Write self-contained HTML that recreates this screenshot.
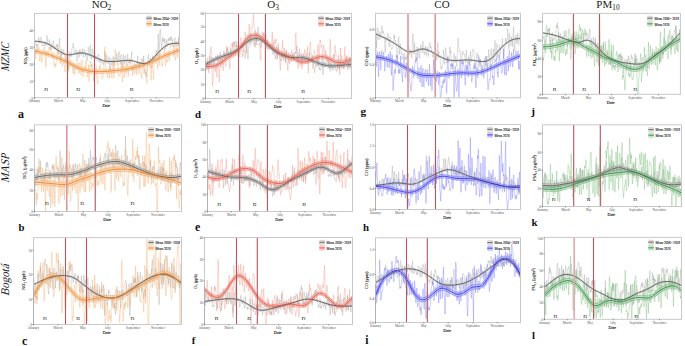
<!DOCTYPE html>
<html><head><meta charset="utf-8"><style>
html,body{margin:0;padding:0;background:#fff;}
body{width:685px;height:346px;overflow:hidden;}
svg{display:block;font-family:"Liberation Serif",serif;}
</style></head><body>
<svg xmlns="http://www.w3.org/2000/svg" width="685" height="346" viewBox="0 0 685 346">
<rect width="685" height="346" fill="#fff"/>
<clipPath id="cpa"><rect x="34.5" y="13.4" width="145.0" height="84.3"/></clipPath>
<g clip-path="url(#cpa)">
<path transform="translate(34.7,0) scale(0.39617,0.1)" vector-effect="non-scaling-stroke" d="M0 385l1 35l1 12l1 22l1-10l1 20l1-6l1-10l1 6l1-20l1-62l1 21l1 28l1 7l1-23l1-22l1-13l1 42l1 37l1 3l1 11l1-14l1-4l1 16l1-17l1-26l1 22l1 19l1-27l1 4l1-31l1-51l1 44l1 55l1-9l1 3l1-33l1-20l1 52l1 45l1-9l1-48l1 20l1 32l1-4l1-5l1-52l1-20l1 80l1-5l1 16l1-30l1 7l1-1l1-19l1 12l1-22l1-4l1 77l1 35l1-30l1-51l1-56l1-34l1 154l1 70l1-33l1-44l1-38l1 61l1-11l1-4l1-6l1-32l1 33l1 22l1 29l1 13l1 22l1 9l1-36l1-16l1-56l1-3l1 60l1 54l1 63l1-52l1-114l1-5l1 35l1 18l1-18l1-27l1-42l1-20l1-4l1-29l1 48l1-10l1 55l1 7l1 1l1-2l1-26l1-9l1 75l1 37l1-58l1-11l1-30l1 20l1 46l1-23l1-62l1 39l1-6l1 29l1-23l1 1l1-44l1 55l1 7l1 27l1-51l1-33l1 22l1-7l1 58l1-29l1 4l1 43l1 24l1-4l1-58l1-74l1 16l1 51l1 26l1-11l1-106l1 54l1 74l1 14l1-61l1-43l1 11l1 87l1-16l1 8l1-26l1-50l1 50l1 44l1-31l1-2l1 3l1 28l1 22l1-4l1-54l1-14l1 13l1 56l1 18l1-23l1 0l1-26l1 46l1 7l1 2l1-9l1-5l1 23l1 4l1-20l1-21l1-91l1 16l1 50l1 49l1-83l1 20l1 27l1 35l1 11l1-42l1-30l1 8l1 87l1 26l1-65l1-39l1 37l1 30l1-19l1-4l1-22l1-42l1 78l1 20l1-38l1-36l1 1l1-15l1 16l1-45l1-16l1 36l1 27l1 23l1-34l1-43l1-24l1 79l1 26l1 24l1-70l1-31l1 69l1 19l1 46l1-36l1-79l1-16l1 62l1 6l1 16l1-62l1-10l1 33l1 38l1 23l1-55l1-56l1 0l1 86l1 0l1-7l1 4l1-25l1 12l1 23l1-28l1-37l1-50l1 142l1 41l1-42l1 0l1-14l1 0l1-12l1 10l1 11l1 18l1-16l1-5l1-16l1-21l1-58l1 56l1 52l1-9l1-20l1-10l1-4l1 33l1 2l1-54l1-18l1 5l1 34l1 13l1 2l1-80l1 65l1 44l1 21l1 46l1 6l1 29l1-8l1-40l1-48l1-62l1-13l1-54l1 92l1-3l1-12l1-12l1-29l1 52l1 34l1 14l1-42l1-75l1 42l1-52l1 12l1 32l1 18l1-9l1-19l1 1l1-62l1-28l1 37l1 0l1 20l1-113l1-105l1 128l1 108l1-118l1-143l1-20l1 36l1 95l1 79l1-4l1-85l1-40l1 34l1 7l1-31l1 39l1-34l1 50l1 51l1-29l1-1l1-66l1 46l1 16l1 10l1-59l1-24l1 22l1-27l1 26l1 6l1-43l1 27l1-21l1 24l1 16l1-20l1 71l1 3l1-15l1-8l1-9l1-59l1 58l1 23l1 8l1-51l1 12l1 38l1-2l1-3l1-17l1-83l1 100" fill="none" stroke="#9c9c9c" stroke-width="0.4" stroke-opacity="0.85"/>
<path transform="translate(34.7,0) scale(0.39617,0.1)" vector-effect="non-scaling-stroke" d="M0 456l1 36l1 69l1 28l1-76l1 16l1-83l1 65l1-4l1-34l1-8l1 21l1 92l1 33l1-47l1-43l1 10l1 64l1 32l1-36l1-37l1-14l1-41l1 1l1-29l1 7l1 50l1 49l1 94l1-48l1-115l1-1l1 43l1 7l1 2l1-48l1-45l1 8l1 29l1 5l1-15l1-20l1 25l1 61l1 22l1-9l1-6l1-39l1 55l1 74l1-21l1 41l1-38l1 4l1 7l1-54l1-52l1-95l1 37l1 14l1 22l1 12l1 4l1-1l1 64l1 37l1 3l1-73l1-20l1 78l1 41l1-20l1-24l1-11l1 12l1 33l1 65l1-1l1-126l1-44l1 107l1 17l1 4l1 3l1-39l1 59l1 16l1-65l1-37l1-9l1 34l1 15l1-38l1-15l1 2l1 48l1 74l1 11l1-50l1-61l1 59l1 63l1-72l1-17l1-30l1 30l1 26l1-11l1 10l1-66l1 12l1 48l1 56l1-45l1-64l1 26l1 49l1 55l1-46l1-113l1 65l1 41l1 45l1 16l1-57l1-51l1 10l1 34l1 1l1-97l1 19l1 86l1 32l1 34l1-40l1-38l1-48l1 165l1-64l1-66l1-74l1 2l1 55l1-18l1 36l1-49l1 44l1 26l1 60l1 47l1-65l1-8l1 30l1-7l1-4l1-95l1 27l1 87l1 27l1 35l1-97l1-45l1-6l1-24l1 24l1-30l1-14l1 12l1 72l1 48l1 1l1 13l1-15l1-5l1-43l1-96l1-77l1-87l1 81l1 140l1 21l1 1l1 32l1 2l1 36l1-59l1-2l1-7l1-26l1 89l1-44l1-53l1-20l1 44l1 33l1 46l1-76l1-82l1-20l1 83l1 90l1-55l1-189l1-39l1 17l1-1l1 40l1 79l1 23l1-27l1 11l1 51l1 75l1-5l1-19l1 8l1 2l1-26l1-46l1-48l1 92l1 87l1 11l1-108l1-92l1 51l1 109l1-5l1-37l1-86l1 36l1 49l1-18l1-51l1-30l1 49l1 79l1-37l1-89l1-47l1-10l1 83l1 21l1-5l1-6l1-15l1 57l1 38l1-61l1-26l1-19l1 8l1 82l1-43l1-16l1-44l1 27l1 83l1-21l1-87l1-20l1 38l1 26l1 53l1-60l1-56l1 38l1 80l1 15l1-7l1 33l1 5l1-83l1-109l1 68l1 21l1 54l1-16l1-28l1 1l1 55l1-25l1 62l1 47l1-69l1-144l1 4l1 24l1-2l1 31l1-9l1-65l1 6l1 126l1 70l1-114l1-42l1-48l1 93l1 41l1 63l1-111l1-105l1 20l1 35l1-22l1-35l1-19l1-10l1 77l1 60l1-58l1-87l1 24l1 91l1-29l1-84l1-40l1 27l1 59l1 54l1-2l1 25l1-33l1-48l1-57l1-13l1-46l1 51l1 65l1 77l1-51l1-93l1 9l1 91l1 8l1-23l1-94l1 1l1 75l1 22l1-81l1-26l1-47l1-20l1 24l1-11l1-4l1-5l1 3l1 58l1 69l1-56l1-57l1 25l1 125l1-28l1-19l1-72l1-12l1 36l1 70l1-96l1-98l1 49l1 24" fill="none" stroke="#f4a45a" stroke-width="0.4" stroke-opacity="0.85"/>
<defs><path id="sag" transform="translate(34.5,0) scale(1.46465,0.1)" vector-effect="non-scaling-stroke" d="M0 412l1 1l1 1l1 2l1 2l1 2l1 3l1 4l1 5l1 6l1 8l1 8l1 9l1 9l1 10l1 11l1 10l1 9l1 9l1 9l1 7l1 5l1 4l1 2l1 0l1-1l1-3l1-3l1-3l1-4l1-2l1-2l1-1l1 1l1 2l1 4l1 4l1 5l1 5l1 6l1 6l1 7l1 7l1 7l1 7l1 6l1 6l1 5l1 3l1 3l1 1l1 1l1 0l1 0l1 0l1-1l1-1l1-1l1-2l1-1l1-1l1-2l1-1l1-1l1 0l1 0l1 2l1 2l1 4l1 4l1 5l1 5l1 4l1 3l1 3l1 0l1-2l1-4l1-8l1-11l1-13l1-15l1-16l1-17l1-16l1-16l1-15l1-14l1-12l1-12l1-9l1-8l1-6l1-4l1-3l1-1l1-1l1 0l1 0l1 0"/><path id="sac" transform="translate(34.5,0) scale(1.46465,0.1)" vector-effect="non-scaling-stroke" d="M0 511l1 2l1 3l1 3l1 3l1 4l1 4l1 3l1 5l1 4l1 5l1 5l1 6l1 6l1 5l1 6l1 6l1 5l1 6l1 6l1 6l1 6l1 7l1 8l1 8l1 9l1 8l1 9l1 8l1 7l1 7l1 6l1 5l1 5l1 4l1 3l1 3l1 3l1 2l1 2l1 1l1 1l1 1l1 0l1 0l1 0l1-1l1 0l1-1l1-1l1-1l1-1l1-2l1-1l1-1l1-1l1-2l1-1l1-2l1-1l1-2l1-2l1-2l1-3l1-2l1-3l1-3l1-4l1-3l1-4l1-4l1-4l1-4l1-5l1-5l1-5l1-6l1-5l1-6l1-6l1-7l1-6l1-7l1-7l1-7l1-6l1-7l1-6l1-7l1-6l1-6l1-6l1-6l1-6l1-5l1-6l1-5l1-6l1-5l1-3"/></defs>
<use href="#sag" fill="none" stroke="#b8b8b8" stroke-width="2" stroke-opacity="0.35" stroke-linejoin="round"/>
<use href="#sac" fill="none" stroke="#f8c898" stroke-width="3.60" stroke-opacity="0.55" stroke-linejoin="round"/>
<use href="#sac" transform="translate(0,-1.80)" fill="none" stroke="#ec7a1e" stroke-width="0.5" stroke-opacity="0.55"/>
<use href="#sac" transform="translate(0,1.80)" fill="none" stroke="#ec7a1e" stroke-width="0.5" stroke-opacity="0.55"/>
<use href="#sag" fill="none" stroke="#505050" stroke-width="0.85" stroke-linejoin="round"/>
<use href="#sac" fill="none" stroke="#ec7a1e" stroke-width="0.85" stroke-linejoin="round"/>
</g>
<line x1="67.5" y1="13.4" x2="67.5" y2="97.7" stroke="#b5555e" stroke-width="1.1"/>
<line x1="94.5" y1="13.4" x2="94.5" y2="97.7" stroke="#b5555e" stroke-width="1.1"/>
<rect x="34.5" y="13.4" width="145.0" height="84.3" fill="none" stroke="#c9c9c9" stroke-width="1"/>
<line x1="34.5" y1="59.765" x2="34.5" y2="97.7" stroke="#b0b0b0" stroke-width="1"/>
<line x1="34.5" y1="97.7" x2="34.5" y2="98.60000000000001" stroke="#444" stroke-width="0.7"/>
<text x="34.5" y="102" font-size="3.7" text-anchor="middle" fill="#555" textLength="11.2" lengthAdjust="spacingAndGlyphs">January</text>
<line x1="58.47" y1="97.7" x2="58.47" y2="98.60000000000001" stroke="#444" stroke-width="0.7"/>
<text x="58.47" y="102" font-size="3.7" text-anchor="middle" fill="#555" textLength="8.7" lengthAdjust="spacingAndGlyphs">March</text>
<line x1="82.83" y1="97.7" x2="82.83" y2="98.60000000000001" stroke="#444" stroke-width="0.7"/>
<text x="82.83" y="102" font-size="3.7" text-anchor="middle" fill="#555" textLength="5.6" lengthAdjust="spacingAndGlyphs">May</text>
<line x1="107.2" y1="97.7" x2="107.2" y2="98.60000000000001" stroke="#444" stroke-width="0.7"/>
<text x="107.2" y="102" font-size="3.7" text-anchor="middle" fill="#555" textLength="5.8" lengthAdjust="spacingAndGlyphs">July</text>
<line x1="131.97" y1="97.7" x2="131.97" y2="98.60000000000001" stroke="#444" stroke-width="0.7"/>
<text x="131.97" y="102" font-size="3.7" text-anchor="middle" fill="#555" textLength="14.1" lengthAdjust="spacingAndGlyphs">September</text>
<line x1="156.33" y1="97.7" x2="156.33" y2="98.60000000000001" stroke="#444" stroke-width="0.7"/>
<text x="156.33" y="102" font-size="3.7" text-anchor="middle" fill="#555" textLength="13.8" lengthAdjust="spacingAndGlyphs">November</text>
<text x="106.28" y="107" font-size="4.9" text-anchor="middle" fill="#222" stroke="#222" stroke-width="0.15" textLength="7.8" lengthAdjust="spacingAndGlyphs">Date</text>
<line x1="33.5" y1="98" x2="34.5" y2="98" stroke="#555" stroke-width="0.6"/>
<text x="32.9" y="99.5" font-size="3.5" text-anchor="end" fill="#555">0</text>
<line x1="33.5" y1="81" x2="34.5" y2="81" stroke="#555" stroke-width="0.6"/>
<text x="32.9" y="82.5" font-size="3.5" text-anchor="end" fill="#555">10</text>
<line x1="33.5" y1="64.1" x2="34.5" y2="64.1" stroke="#555" stroke-width="0.6"/>
<text x="32.9" y="65.6" font-size="3.5" text-anchor="end" fill="#555">20</text>
<line x1="33.5" y1="47.2" x2="34.5" y2="47.2" stroke="#555" stroke-width="0.6"/>
<text x="32.9" y="48.7" font-size="3.5" text-anchor="end" fill="#555">30</text>
<line x1="33.5" y1="30.2" x2="34.5" y2="30.2" stroke="#555" stroke-width="0.6"/>
<text x="32.9" y="31.7" font-size="3.5" text-anchor="end" fill="#555">40</text>
<text transform="translate(26.9,55.8) rotate(-90)" font-size="4.5" text-anchor="middle" fill="#222" stroke="#222" stroke-width="0.1" textLength="16.9" lengthAdjust="spacingAndGlyphs">NO₂ (ppb)</text>
<text x="46.3" y="90.5" font-size="3.2" font-weight="bold" text-anchor="middle" fill="#111" textLength="3.4" lengthAdjust="spacingAndGlyphs">P1</text>
<text x="78.3" y="90.5" font-size="3.2" font-weight="bold" text-anchor="middle" fill="#111" textLength="3.4" lengthAdjust="spacingAndGlyphs">P2</text>
<text x="131.6" y="90.5" font-size="3.2" font-weight="bold" text-anchor="middle" fill="#111" textLength="3.4" lengthAdjust="spacingAndGlyphs">P3</text>
<rect x="146.3" y="15.7" width="5.5" height="5" fill="#dadada"/>
<line x1="146.3" y1="18.2" x2="151.8" y2="18.2" stroke="#505050" stroke-width="0.8"/>
<rect x="146.3" y="21.1" width="5.5" height="5.4" fill="#f8c898" fill-opacity="0.65"/>
<line x1="146.3" y1="23.8" x2="151.8" y2="23.8" stroke="#ec7a1e" stroke-width="0.8"/>
<text x="153.6" y="19.7" font-size="4.4" fill="#222" stroke="#222" stroke-width="0.12" textLength="24.3" lengthAdjust="spacingAndGlyphs">Mean 2004 - 2019</text>
<text x="153.6" y="25.5" font-size="4.4" fill="#222" stroke="#222" stroke-width="0.12" textLength="15" lengthAdjust="spacingAndGlyphs">Mean 2020</text>
<clipPath id="cpd"><rect x="205.5" y="13.4" width="146.0" height="85.0"/></clipPath>
<g clip-path="url(#cpd)">
<path transform="translate(205.7,0) scale(0.39891,0.1)" vector-effect="non-scaling-stroke" d="M0 607l1 31l1 37l1-1l1-37l1-23l1 19l1 60l1 35l1-76l1-95l1 43l1 15l1 48l1-26l1-22l1-45l1 26l1 28l1 20l1-35l1-29l1 14l1 25l1-38l1-24l1 11l1 0l1 37l1-13l1-48l1 19l1 52l1 0l1-25l1 0l1-74l1 48l1 28l1 4l1 9l1 34l1-59l1-17l1-27l1-27l1 3l1 56l1 4l1-4l1 31l1-25l1-39l1-47l1 84l1-16l1-20l1-21l1-8l1 68l1 1l1-8l1-26l1-58l1 48l1 45l1-57l1-48l1-52l1 33l1-20l1-16l1 8l1 28l1 66l1 43l1-15l1-29l1-67l1 12l1 13l1-14l1-17l1-8l1 34l1 58l1-20l1-28l1-22l1 1l1 9l1 15l1-16l1-32l1-10l1 61l1 24l1 9l1 15l1 48l1-42l1-61l1-33l1-25l1 51l1 63l1 55l1-91l1-39l1-48l1-81l1 55l1 62l1-15l1-85l1 35l1 41l1 0l1 3l1-1l1-4l1 35l1-1l1-59l1-26l1-68l1 78l1 70l1-39l1-59l1-47l1-37l1 6l1 37l1 16l1 17l1 20l1 40l1 73l1-23l1-75l1 0l1 27l1 25l1-24l1-78l1-9l1 52l1 77l1-5l1-45l1 30l1 15l1 28l1 3l1-53l1-17l1 36l1 28l1 17l1-15l1 9l1-42l1 45l1 11l1-15l1-35l1 3l1 49l1 49l1-62l1-64l1 31l1 96l1 35l1 8l1-87l1-36l1 30l1 87l1-67l1-18l1-33l1 26l1 33l1 22l1 20l1 17l1 18l1 7l1-23l1-35l1 1l1-17l1 51l1 20l1-21l1-36l1-23l1 39l1 63l1-54l1-66l1 21l1-3l1 34l1 2l1 26l1 28l1 7l1-10l1-3l1-50l1-27l1-1l1-30l1 31l1-2l1 8l1 31l1 25l1-33l1-11l1-21l1 3l1-14l1 17l1-30l1-18l1-30l1 88l1 83l1-68l1-3l1-44l1-28l1 29l1 3l1 21l1 9l1 29l1 52l1-23l1-33l1-18l1 21l1-14l1 46l1-33l1-9l1-15l1 1l1-11l1-9l1 10l1 6l1 51l1 39l1-28l1-46l1-36l1-4l1 55l1 18l1 25l1-48l1 7l1 16l1-47l1 39l1 44l1 34l1 30l1 30l1-21l1-45l1-23l1 9l1 13l1 9l1-62l1-49l1 38l1 52l1 46l1-1l1-20l1 29l1 0l1-8l1-66l1-34l1 2l1 66l1 87l1-89l1-64l1 16l1 40l1 17l1-9l1-25l1-34l1-46l1 28l1 3l1-9l1 11l1 34l1 50l1 24l1-84l1 16l1 26l1 56l1-66l1 24l1-4l1 0l1 35l1-1l1-30l1-117l1 50l1 27l1 33l1 39l1-7l1 14l1 8l1-43l1-38l1-38l1-4l1 68l1 38l1-29l1-41l1-39l1 36l1 60l1-3l1-58l1-13l1 17l1 40l1 13l1 8l1-49l1 1l1-29l1-30l1 18l1-42l1-5l1 23l1 53l1 44l1-40l1-21l1 56l1 23l1-18l1-44l1-36l1 26" fill="none" stroke="#9c9c9c" stroke-width="0.4" stroke-opacity="0.85"/>
<path transform="translate(205.7,0) scale(0.39891,0.1)" vector-effect="non-scaling-stroke" d="M0 592l1 50l1 4l1 55l1-22l1-102l1 43l1 58l1 3l1-32l1-50l1-62l1-1l1-70l1 68l1 141l1 59l1 124l1-25l1-82l1-109l1-24l1 13l1 53l1 32l1-27l1-52l1 1l1 135l1-80l1-95l1-13l1 81l1 55l1 101l1-61l1-139l1-41l1 95l1-30l1-46l1-16l1 2l1 97l1 23l1-75l1-63l1-44l1 82l1 50l1 9l1-2l1-178l1-25l1 47l1-31l1 76l1-9l1-13l1 84l1 76l1-16l1-133l1-83l1-13l1-11l1 0l1 35l1-18l1 36l1 85l1 4l1-161l1 0l1 16l1 6l1 36l1-63l1 24l1 91l1 26l1 15l1-18l1-66l1 64l1 16l1 5l1-128l1-66l1 38l1 29l1 91l1 4l1 35l1-66l1 16l1-55l1-61l1-2l1-82l1 60l1 87l1 66l1-119l1-52l1-17l1 37l1 45l1-109l1-79l1 58l1 31l1 46l1-5l1-73l1-20l1-7l1 4l1-28l1-47l1-53l1 68l1 174l1 25l1 62l1-48l1 3l1-13l1-85l1 24l1-32l1-2l1 69l1 30l1 27l1-9l1 59l1 48l1 56l1-127l1-78l1-77l1 18l1 52l1 24l1-32l1-47l1 27l1 73l1 7l1-54l1-39l1 29l1 32l1 88l1-105l1 4l1 70l1 30l1-10l1 5l1-48l1-6l1 0l1 43l1-35l1-47l1-77l1 183l1-40l1-39l1-16l1-13l1 11l1 17l1 5l1-42l1 56l1 64l1 86l1-4l1-113l1-41l1 80l1 5l1 43l1 70l1 72l1-46l1-102l1 13l1-60l1-54l1-53l1 130l1 50l1-46l1-58l1 38l1 46l1 48l1-50l1-61l1 77l1 64l1 2l1 64l1-146l1-38l1 52l1 67l1-25l1-52l1-17l1 9l1 61l1-38l1-38l1 9l1-18l1 31l1 15l1-40l1-3l1-44l1-94l1-66l1 81l1 92l1 63l1 87l1 18l1 13l1-36l1-88l1-33l1 108l1 24l1-30l1-30l1-62l1 147l1-11l1-44l1-44l1-51l1 23l1-26l1-37l1 22l1 91l1 30l1-54l1-6l1-27l1-87l1 128l1 140l1-48l1-113l1-4l1-124l1-4l1-17l1 98l1 24l1 60l1 28l1 19l1 36l1-34l1-86l1-67l1 14l1 18l1 15l1 1l1 44l1-5l1 32l1-71l1-103l1 14l1 85l1 106l1-108l1-136l1 9l1-15l1 71l1-10l1-10l1 78l1 68l1-26l1-87l1-36l1 28l1 40l1 3l1 35l1-52l1 32l1 36l1 32l1 28l1-23l1-8l1 62l1-29l1-11l1-138l1-91l1 56l1 150l1 44l1-38l1-28l1 23l1-31l1 10l1-37l1 15l1 3l1-105l1 35l1 35l1 51l1 25l1 26l1 21l1 37l1-79l1-54l1 39l1 64l1 91l1-197l1-69l1 76l1 44l1-45l1 23l1 8l1 25l1 75l1-1l1-87l1-57l1-74l1 178l1-48l1 4l1-38l1 49l1 83l1 2l1-71l1-56l1-1l1 17l1 17l1 68l1-102l1 17l1 52" fill="none" stroke="#f08878" stroke-width="0.4" stroke-opacity="0.85"/>
<defs><path id="sdg" transform="translate(205.5,0) scale(1.47475,0.1)" vector-effect="non-scaling-stroke" d="M0 646l1-8l1-9l1-8l1-9l1-8l1-7l1-7l1-7l1-5l1-6l1-5l1-5l1-5l1-5l1-5l1-5l1-6l1-6l1-7l1-8l1-9l1-10l1-11l1-13l1-13l1-14l1-13l1-12l1-10l1-9l1-6l1-5l1-3l1-1l1 0l1 2l1 4l1 7l1 10l1 11l1 12l1 14l1 13l1 14l1 13l1 12l1 11l1 10l1 9l1 8l1 7l1 7l1 5l1 5l1 4l1 4l1 3l1 2l1 2l1 1l1 1l1 0l1 0l1 0l1 0l1 2l1 2l1 3l1 4l1 5l1 6l1 6l1 6l1 6l1 6l1 6l1 6l1 5l1 4l1 4l1 4l1 2l1 2l1 2l1 1l1 0l1 0l1-1l1-1l1-1l1-1l1-2l1-1l1-2l1-1l1-1l1-1l1 0l1-1"/><path id="sdc" transform="translate(205.5,0) scale(1.47475,0.1)" vector-effect="non-scaling-stroke" d="M0 667l1 0l1 0l1-1l1-1l1-2l1-4l1-4l1-7l1-8l1-9l1-10l1-10l1-11l1-11l1-11l1-11l1-10l1-9l1-10l1-11l1-12l1-14l1-16l1-19l1-19l1-21l1-19l1-17l1-14l1-10l1-8l1-4l1-2l1 0l1 2l1 6l1 7l1 10l1 13l1 13l1 15l1 14l1 15l1 13l1 13l1 12l1 11l1 10l1 9l1 8l1 7l1 7l1 7l1 6l1 7l1 7l1 6l1 7l1 7l1 7l1 6l1 6l1 6l1 5l1 4l1 2l1 0l1-2l1-4l1-5l1-6l1-7l1-6l1-7l1-5l1-5l1-4l1-2l1 0l1 1l1 3l1 5l1 5l1 8l1 8l1 8l1 7l1 7l1 4l1 3l1 1l1-1l1-2l1-3l1-5l1-5l1-6l1-7l1-7"/></defs>
<use href="#sdg" fill="none" stroke="#b8b8b8" stroke-width="3.06" stroke-opacity="0.45" stroke-linejoin="round"/>
<use href="#sdg" transform="translate(0,-1.53)" fill="none" stroke="#505050" stroke-width="0.5" stroke-opacity="0.55"/>
<use href="#sdg" transform="translate(0,1.53)" fill="none" stroke="#505050" stroke-width="0.5" stroke-opacity="0.55"/>
<use href="#sdc" fill="none" stroke="#f4aca0" stroke-width="3.60" stroke-opacity="0.55" stroke-linejoin="round"/>
<use href="#sdc" transform="translate(0,-1.80)" fill="none" stroke="#e0483a" stroke-width="0.5" stroke-opacity="0.55"/>
<use href="#sdc" transform="translate(0,1.80)" fill="none" stroke="#e0483a" stroke-width="0.5" stroke-opacity="0.55"/>
<use href="#sdg" fill="none" stroke="#505050" stroke-width="0.85" stroke-linejoin="round"/>
<use href="#sdc" fill="none" stroke="#e0483a" stroke-width="0.85" stroke-linejoin="round"/>
</g>
<line x1="238.5" y1="13.4" x2="238.5" y2="98.4" stroke="#b5555e" stroke-width="1.1"/>
<line x1="265.4" y1="13.4" x2="265.4" y2="98.4" stroke="#b5555e" stroke-width="1.1"/>
<rect x="205.5" y="13.4" width="146.0" height="85.0" fill="none" stroke="#c9c9c9" stroke-width="1"/>
<line x1="205.5" y1="60.150000000000006" x2="205.5" y2="98.4" stroke="#b0b0b0" stroke-width="1"/>
<line x1="205.5" y1="98.4" x2="205.5" y2="99.30000000000001" stroke="#444" stroke-width="0.7"/>
<text x="205.5" y="102.7" font-size="3.7" text-anchor="middle" fill="#555" textLength="11.2" lengthAdjust="spacingAndGlyphs">January</text>
<line x1="229.63" y1="98.4" x2="229.63" y2="99.30000000000001" stroke="#444" stroke-width="0.7"/>
<text x="229.63" y="102.7" font-size="3.7" text-anchor="middle" fill="#555" textLength="8.7" lengthAdjust="spacingAndGlyphs">March</text>
<line x1="254.17" y1="98.4" x2="254.17" y2="99.30000000000001" stroke="#444" stroke-width="0.7"/>
<text x="254.17" y="102.7" font-size="3.7" text-anchor="middle" fill="#555" textLength="5.6" lengthAdjust="spacingAndGlyphs">May</text>
<line x1="278.7" y1="98.4" x2="278.7" y2="99.30000000000001" stroke="#444" stroke-width="0.7"/>
<text x="278.7" y="102.7" font-size="3.7" text-anchor="middle" fill="#555" textLength="5.8" lengthAdjust="spacingAndGlyphs">July</text>
<line x1="303.64" y1="98.4" x2="303.64" y2="99.30000000000001" stroke="#444" stroke-width="0.7"/>
<text x="303.64" y="102.7" font-size="3.7" text-anchor="middle" fill="#555" textLength="14.1" lengthAdjust="spacingAndGlyphs">September</text>
<line x1="328.17" y1="98.4" x2="328.17" y2="99.30000000000001" stroke="#444" stroke-width="0.7"/>
<text x="328.17" y="102.7" font-size="3.7" text-anchor="middle" fill="#555" textLength="13.8" lengthAdjust="spacingAndGlyphs">November</text>
<text x="277.77" y="107.7" font-size="4.9" text-anchor="middle" fill="#222" stroke="#222" stroke-width="0.15" textLength="7.8" lengthAdjust="spacingAndGlyphs">Date</text>
<line x1="204.5" y1="98" x2="205.5" y2="98" stroke="#555" stroke-width="0.6"/>
<text x="203.9" y="99.5" font-size="3.5" text-anchor="end" fill="#555">0</text>
<line x1="204.5" y1="84.2" x2="205.5" y2="84.2" stroke="#555" stroke-width="0.6"/>
<text x="203.9" y="85.7" font-size="3.5" text-anchor="end" fill="#555">10</text>
<line x1="204.5" y1="69.9" x2="205.5" y2="69.9" stroke="#555" stroke-width="0.6"/>
<text x="203.9" y="71.4" font-size="3.5" text-anchor="end" fill="#555">20</text>
<line x1="204.5" y1="55.6" x2="205.5" y2="55.6" stroke="#555" stroke-width="0.6"/>
<text x="203.9" y="57.1" font-size="3.5" text-anchor="end" fill="#555">30</text>
<line x1="204.5" y1="41.2" x2="205.5" y2="41.2" stroke="#555" stroke-width="0.6"/>
<text x="203.9" y="42.7" font-size="3.5" text-anchor="end" fill="#555">40</text>
<line x1="204.5" y1="26.9" x2="205.5" y2="26.9" stroke="#555" stroke-width="0.6"/>
<text x="203.9" y="28.4" font-size="3.5" text-anchor="end" fill="#555">50</text>
<line x1="204.5" y1="13.1" x2="205.5" y2="13.1" stroke="#555" stroke-width="0.6"/>
<text x="203.9" y="14.6" font-size="3.5" text-anchor="end" fill="#555">60</text>
<text transform="translate(197.9,56.2) rotate(-90)" font-size="4.5" text-anchor="middle" fill="#222" stroke="#222" stroke-width="0.1" textLength="15.7" lengthAdjust="spacingAndGlyphs">O₃ (ppb)</text>
<text x="217.3" y="92.8" font-size="3.2" font-weight="bold" text-anchor="middle" fill="#111" textLength="3.4" lengthAdjust="spacingAndGlyphs">P1</text>
<text x="249.3" y="92.8" font-size="3.2" font-weight="bold" text-anchor="middle" fill="#111" textLength="3.4" lengthAdjust="spacingAndGlyphs">P2</text>
<text x="303.1" y="92.8" font-size="3.2" font-weight="bold" text-anchor="middle" fill="#111" textLength="3.4" lengthAdjust="spacingAndGlyphs">P3</text>
<rect x="318.3" y="15.7" width="5.5" height="5" fill="#dadada"/>
<line x1="318.3" y1="18.2" x2="323.8" y2="18.2" stroke="#505050" stroke-width="0.8"/>
<rect x="318.3" y="21.1" width="5.5" height="5.4" fill="#f4aca0" fill-opacity="0.65"/>
<line x1="318.3" y1="23.8" x2="323.8" y2="23.8" stroke="#e0483a" stroke-width="0.8"/>
<text x="325.6" y="19.7" font-size="4.4" fill="#222" stroke="#222" stroke-width="0.12" textLength="24.3" lengthAdjust="spacingAndGlyphs">Mean 2004 - 2019</text>
<text x="325.6" y="25.5" font-size="4.4" fill="#222" stroke="#222" stroke-width="0.12" textLength="15" lengthAdjust="spacingAndGlyphs">Mean 2020</text>
<clipPath id="cpg"><rect x="375.5" y="13.4" width="145.0" height="84.39999999999999"/></clipPath>
<g clip-path="url(#cpg)">
<path transform="translate(375.7,0) scale(0.39617,0.1)" vector-effect="non-scaling-stroke" d="M0 221l1 112l1 142l1-38l1-91l1-66l1 23l1 77l1 21l1-47l1-25l1-14l1 31l1 39l1-50l1-69l1-8l1 25l1 51l1-24l1 22l1 15l1 27l1 77l1 76l1-91l1-68l1 33l1 3l1 6l1-2l1-77l1 77l1 15l1 45l1-49l1-52l1 2l1 44l1 86l1-4l1-6l1 3l1-27l1-8l1-2l1-112l1 34l1-13l1 50l1-7l1-2l1 50l1 95l1 78l1-63l1-41l1-80l1-78l1 81l1 98l1-38l1-69l1 24l1 53l1 27l1-14l1 66l1-3l1-10l1-36l1 4l1-16l1 0l1 32l1 25l1-15l1 23l1-24l1-19l1 22l1-62l1-1l1-59l1 24l1 73l1-24l1-2l1-32l1 28l1 19l1 40l1-105l1-78l1-63l1 99l1 107l1-14l1-98l1 64l1 86l1 46l1-40l1-63l1-55l1 22l1 97l1-48l1-51l1-9l1 68l1 35l1-62l1-14l1-59l1 45l1 0l1 30l1 10l1-120l1 75l1 12l1 35l1 18l1-23l1-68l1 20l1 31l1 44l1-44l1-42l1 31l1 21l1 46l1-66l1-47l1-4l1-25l1 57l1-21l1 10l1 49l1-17l1 63l1 6l1-28l1-23l1 77l1 99l1 54l1-166l1-94l1 15l1 33l1 63l1-52l1-64l1-65l1 160l1-64l1 6l1 5l1 12l1 79l1 12l1 63l1-26l1 12l1-14l1-29l1-29l1-110l1 59l1 54l1 34l1-43l1-126l1 16l1 53l1 57l1 28l1-15l1-52l1 15l1 29l1 22l1-18l1-142l1 26l1 35l1-18l1 74l1 27l1 34l1-4l1 27l1-37l1-53l1-44l1 56l1 39l1-36l1-32l1 18l1 59l1 28l1-86l1-144l1-60l1 86l1 12l1 45l1-10l1 4l1 13l1 96l1 19l1-21l1-83l1 2l1-31l1 28l1 7l1-9l1 2l1 21l1 65l1 7l1-75l1-57l1 93l1 52l1 52l1-59l1-68l1 1l1 73l1-27l1-57l1-47l1 74l1 36l1-6l1-49l1-58l1-19l1 1l1 12l1 7l1 73l1 32l1 24l1 49l1-29l1-54l1-78l1 16l1 6l1 25l1-25l1 16l1 17l1 80l1-10l1-61l1 24l1 8l1 48l1-7l1-9l1 43l1-36l1-26l1-12l1-39l1 2l1-5l1 90l1-14l1-60l1-24l1-10l1 70l1 78l1-94l1-121l1 26l1 68l1 56l1 43l1-72l1-123l1-8l1 87l1 38l1 33l1-90l1-63l1 52l1 53l1-102l1-91l1 73l1 63l1 36l1-18l1-122l1 95l1 47l1-18l1-57l1-8l1-30l1-13l1 94l1-24l1-45l1 1l1-41l1-8l1-42l1 88l1 41l1 67l1-60l1-40l1-34l1-6l1-61l1 3l1 56l1-33l1-9l1-110l1 35l1 99l1 69l1-93l1-66l1 51l1 71l1 8l1-23l1-73l1 50l1-8l1 63l1-121l1-82l1 114l1 49l1 73l1-75l1-12l1-69l1 31l1 53l1-30l1-72l1 46l1 69l1 3l1-47l1-46l1-18l1-35" fill="none" stroke="#9c9c9c" stroke-width="0.4" stroke-opacity="0.85"/>
<path transform="translate(375.7,0) scale(0.39617,0.1)" vector-effect="non-scaling-stroke" d="M0 354l1 153l1 132l1 29l1-115l1-37l1 8l1 242l1-100l1-93l1-56l1 11l1 83l1 90l1-125l1-71l1 20l1 71l1 8l1-33l1-49l1 48l1 35l1 109l1-99l1-20l1-19l1-16l1 73l1 39l1-67l1 3l1-69l1 45l1 97l1-57l1-70l1-43l1 87l1 117l1 37l1-207l1 10l1 187l1 164l1-86l1-40l1-49l1-39l1 41l1-2l1-110l1-65l1 13l1-18l1 16l1 86l1 16l1 67l1-44l1 27l1 16l1-75l1-100l1 88l1 45l1 59l1 35l1 36l1-135l1-55l1-24l1-42l1 56l1 112l1 41l1-24l1-49l1-79l1 96l1 64l1-40l1-51l1-24l1 56l1 63l1 26l1 12l1 60l1 27l1-43l1-1l1-164l1-47l1 23l1 23l1 73l1-56l1-51l1-35l1-22l1 4l1-20l1 10l1-36l1 76l1 132l1 12l1-59l1-57l1 27l1 21l1 101l1-84l1-73l1-14l1 110l1 107l1-136l1-54l1 83l1 98l1 10l1-101l1-34l1-41l1 44l1 8l1 68l1-51l1-70l1 59l1 17l1 87l1-59l1-55l1-100l1 120l1 96l1-64l1-27l1 18l1 120l1-82l1-41l1-61l1-123l1 84l1 61l1 52l1-102l1 48l1 7l1 68l1-49l1-53l1-4l1 43l1 54l1 38l1-94l1-31l1 123l1 129l1 0l1-14l1-23l1-80l1 22l1-55l1-16l1 33l1-51l1 3l1 32l1-86l1-36l1 48l1 96l1 87l1-81l1-246l1-36l1 73l1 90l1 50l1-50l1 26l1-54l1-61l1 3l1 12l1-29l1 64l1-47l1 15l1 21l1 245l1 45l1-66l1-203l1-42l1 167l1 26l1 53l1 6l1-57l1-170l1 9l1 153l1 124l1-117l1-133l1-123l1 76l1 90l1 0l1 13l1-60l1-104l1 26l1-30l1 34l1 12l1 55l1 70l1 71l1-78l1-128l1 63l1-38l1-14l1 43l1 61l1 10l1-31l1-131l1 39l1-8l1 43l1 17l1 28l1 89l1 0l1-34l1-5l1-63l1-49l1-13l1 31l1-54l1 56l1 101l1 91l1-121l1-83l1-1l1 83l1 20l1-205l1-2l1 39l1 20l1-35l1 28l1 35l1 9l1 79l1 12l1-78l1 10l1 41l1-4l1 55l1-40l1-75l1-32l1-70l1 2l1-6l1 91l1-7l1 110l1 134l1 11l1-44l1-46l1-17l1 9l1-12l1-137l1 8l1-18l1 27l1 31l1 83l1-25l1 37l1 56l1-49l1-79l1-123l1 3l1 13l1-18l1-19l1 100l1 57l1-12l1 51l1-101l1-97l1-31l1 52l1-5l1 52l1 3l1 50l1 34l1-16l1-6l1-52l1-90l1-80l1 115l1 146l1-2l1-154l1 25l1 128l1 9l1-123l1-70l1 2l1 85l1 62l1-119l1-88l1 14l1 127l1 22l1-34l1-50l1-58l1 37l1 75l1 34l1-41l1-140l1 73l1 16l1 20l1 5l1-54l1-42l1 28l1 55l1-1l1-34l1-48l1-2l1 188l1-85l1 62l1 21l1-28" fill="none" stroke="#6a6af8" stroke-width="0.4" stroke-opacity="0.85"/>
<defs><path id="sgg" transform="translate(375.5,0) scale(1.46465,0.1)" vector-effect="non-scaling-stroke" d="M0 339l1 6l1 6l1 7l1 6l1 7l1 7l1 7l1 7l1 8l1 8l1 8l1 9l1 9l1 10l1 9l1 11l1 10l1 10l1 10l1 9l1 7l1 5l1 3l1 0l1-1l1-3l1-4l1-5l1-5l1-5l1-3l1-2l1 0l1 3l1 4l1 5l1 7l1 7l1 8l1 8l1 9l1 8l1 9l1 8l1 7l1 7l1 6l1 6l1 4l1 4l1 2l1 2l1 1l1 0l1 0l1-1l1 0l1-1l1-1l1-1l1-1l1 0l1 0l1 0l1 1l1 1l1 2l1 3l1 2l1 2l1 2l1 1l1 1l1 0l1-2l1-4l1-5l1-8l1-11l1-13l1-15l1-16l1-17l1-16l1-16l1-16l1-14l1-14l1-12l1-11l1-10l1-8l1-7l1-5l1-4l1-3l1-1l1-1l1 0"/><path id="sgc" transform="translate(375.5,0) scale(1.46465,0.1)" vector-effect="non-scaling-stroke" d="M0 568l1 2l1 3l1 2l1 3l1 3l1 4l1 3l1 5l1 4l1 5l1 6l1 6l1 6l1 6l1 7l1 8l1 7l1 8l1 8l1 8l1 8l1 9l1 8l1 8l1 8l1 7l1 7l1 7l1 5l1 5l1 4l1 3l1 2l1 1l1 1l1 0l1 0l1 0l1 0l1-1l1 0l1-1l1-1l1-1l1-2l1-1l1-2l1-2l1-2l1-2l1-2l1-2l1-1l1-2l1-1l1-1l1-1l1-1l1 0l1 0l1 0l1 1l1 0l1 1l1 1l1 0l1 0l1-1l1-1l1-3l1-3l1-3l1-5l1-4l1-6l1-6l1-6l1-6l1-7l1-6l1-7l1-7l1-7l1-6l1-7l1-6l1-6l1-6l1-6l1-6l1-6l1-6l1-6l1-6l1-6l1-6l1-6l1-6l1-6"/></defs>
<use href="#sgg" fill="none" stroke="#b8b8b8" stroke-width="2" stroke-opacity="0.35" stroke-linejoin="round"/>
<use href="#sgc" fill="none" stroke="#a8a8f8" stroke-width="3.60" stroke-opacity="0.55" stroke-linejoin="round"/>
<use href="#sgc" transform="translate(0,-1.80)" fill="none" stroke="#2828e8" stroke-width="0.5" stroke-opacity="0.55"/>
<use href="#sgc" transform="translate(0,1.80)" fill="none" stroke="#2828e8" stroke-width="0.5" stroke-opacity="0.55"/>
<use href="#sgg" fill="none" stroke="#505050" stroke-width="0.85" stroke-linejoin="round"/>
<use href="#sgc" fill="none" stroke="#2828e8" stroke-width="0.85" stroke-linejoin="round"/>
</g>
<line x1="408" y1="13.4" x2="408" y2="97.8" stroke="#d8989c" stroke-width="1.6"/>
<line x1="435.2" y1="13.4" x2="435.2" y2="97.8" stroke="#d8989c" stroke-width="1.6"/>
<rect x="375.5" y="13.4" width="145.0" height="84.39999999999999" fill="none" stroke="#c9c9c9" stroke-width="1"/>
<line x1="375.5" y1="59.82" x2="375.5" y2="97.8" stroke="#b0b0b0" stroke-width="1"/>
<line x1="375.5" y1="97.8" x2="375.5" y2="98.7" stroke="#444" stroke-width="0.7"/>
<text x="375.5" y="102.1" font-size="3.7" text-anchor="middle" fill="#555" textLength="11.2" lengthAdjust="spacingAndGlyphs">January</text>
<line x1="399.47" y1="97.8" x2="399.47" y2="98.7" stroke="#444" stroke-width="0.7"/>
<text x="399.47" y="102.1" font-size="3.7" text-anchor="middle" fill="#555" textLength="8.7" lengthAdjust="spacingAndGlyphs">March</text>
<line x1="423.83" y1="97.8" x2="423.83" y2="98.7" stroke="#444" stroke-width="0.7"/>
<text x="423.83" y="102.1" font-size="3.7" text-anchor="middle" fill="#555" textLength="5.6" lengthAdjust="spacingAndGlyphs">May</text>
<line x1="448.2" y1="97.8" x2="448.2" y2="98.7" stroke="#444" stroke-width="0.7"/>
<text x="448.2" y="102.1" font-size="3.7" text-anchor="middle" fill="#555" textLength="5.8" lengthAdjust="spacingAndGlyphs">July</text>
<line x1="472.97" y1="97.8" x2="472.97" y2="98.7" stroke="#444" stroke-width="0.7"/>
<text x="472.97" y="102.1" font-size="3.7" text-anchor="middle" fill="#555" textLength="14.1" lengthAdjust="spacingAndGlyphs">September</text>
<line x1="497.33" y1="97.8" x2="497.33" y2="98.7" stroke="#444" stroke-width="0.7"/>
<text x="497.33" y="102.1" font-size="3.7" text-anchor="middle" fill="#555" textLength="13.8" lengthAdjust="spacingAndGlyphs">November</text>
<text x="447.27" y="107.1" font-size="4.9" text-anchor="middle" fill="#222" stroke="#222" stroke-width="0.15" textLength="7.8" lengthAdjust="spacingAndGlyphs">Date</text>
<line x1="374.5" y1="98" x2="375.5" y2="98" stroke="#555" stroke-width="0.6"/>
<text x="373.9" y="99.5" font-size="3.5" text-anchor="end" fill="#555">0.0</text>
<line x1="374.5" y1="64.2" x2="375.5" y2="64.2" stroke="#555" stroke-width="0.6"/>
<text x="373.9" y="65.7" font-size="3.5" text-anchor="end" fill="#555">0.4</text>
<line x1="374.5" y1="29.8" x2="375.5" y2="29.8" stroke="#555" stroke-width="0.6"/>
<text x="373.9" y="31.3" font-size="3.5" text-anchor="end" fill="#555">0.8</text>
<text transform="translate(367.9,56.2) rotate(-90)" font-size="4.5" text-anchor="middle" fill="#222" stroke="#222" stroke-width="0.1" textLength="19.0" lengthAdjust="spacingAndGlyphs">CO (ppm)</text>
<rect x="487.3" y="15.7" width="5.5" height="5" fill="#dadada"/>
<line x1="487.3" y1="18.2" x2="492.8" y2="18.2" stroke="#505050" stroke-width="0.8"/>
<rect x="487.3" y="21.1" width="5.5" height="5.4" fill="#a8a8f8" fill-opacity="0.65"/>
<line x1="487.3" y1="23.8" x2="492.8" y2="23.8" stroke="#2828e8" stroke-width="0.8"/>
<text x="494.6" y="19.7" font-size="4.4" fill="#222" stroke="#222" stroke-width="0.12" textLength="24.3" lengthAdjust="spacingAndGlyphs">Mean 2004 - 2019</text>
<text x="494.6" y="25.5" font-size="4.4" fill="#222" stroke="#222" stroke-width="0.12" textLength="15" lengthAdjust="spacingAndGlyphs">Mean 2020</text>
<clipPath id="cpj"><rect x="542.5" y="13.4" width="137.89999999999998" height="80.89999999999999"/></clipPath>
<g clip-path="url(#cpj)">
<path transform="translate(542.69,0) scale(0.37678,0.1)" vector-effect="non-scaling-stroke" d="M0 366l1 27l1-6l1-22l1-10l1 41l1 31l1-24l1-26l1-84l1-41l1 11l1 34l1 18l1 10l1-29l1-5l1-1l1 88l1 68l1 61l1-73l1-24l1-35l1 7l1-37l1-20l1 33l1 44l1 6l1-5l1-28l1 12l1 4l1-14l1-52l1-22l1-52l1 26l1-50l1 54l1-7l1 9l1 92l1 47l1-34l1-12l1-41l1 41l1 14l1 39l1 5l1-10l1-4l1 7l1-14l1-19l1-85l1 60l1-16l1 11l1-10l1-51l1 34l1 95l1 41l1-29l1-14l1-46l1-6l1 57l1-6l1 27l1 32l1 104l1-17l1-71l1-72l1-72l1 32l1 41l1-8l1-55l1-45l1 85l1 60l1-35l1-35l1-37l1 37l1 40l1 20l1-3l1-72l1-7l1 58l1 29l1 17l1-75l1-52l1 64l1-4l1 30l1-44l1-36l1 85l1 25l1 5l1-112l1-34l1 8l1 1l1 3l1 5l1-20l1-18l1 34l1 7l1-20l1 13l1 45l1-9l1 4l1-18l1-46l1-33l1 82l1 52l1 8l1-28l1-16l1 54l1 4l1 19l1-75l1-21l1 35l1 20l1 47l1-18l1-74l1 60l1 21l1 33l1 18l1-42l1-39l1 51l1 85l1-48l1-22l1-50l1 53l1 48l1-28l1-55l1-12l1 60l1 63l1-24l1-80l1-26l1 48l1 22l1 45l1 1l1-27l1 13l1 28l1 20l1-8l1-70l1 23l1 59l1 47l1-6l1-25l1 26l1-10l1 3l1 12l1-79l1-58l1 17l1 89l1-6l1 31l1 34l1-4l1-20l1 26l1-19l1-5l1 2l1 1l1 18l1-5l1-8l1 3l1-9l1-46l1-18l1-52l1 41l1 16l1 99l1-34l1-106l1 19l1-15l1 51l1-20l1-22l1 22l1 44l1 105l1-65l1-31l1-49l1 11l1 5l1 72l1 27l1-22l1-20l1-19l1 3l1-48l1-43l1 28l1 32l1 34l1 51l1-74l1-33l1-50l1 19l1 20l1-13l1 44l1 3l1 20l1 23l1 5l1-40l1-94l1 112l1 10l1-32l1-16l1-24l1 24l1 77l1-16l1-16l1-34l1 15l1 5l1 25l1-5l1 14l1 0l1 10l1-63l1-27l1-23l1 39l1 59l1 10l1-3l1-10l1-4l1-36l1-57l1-23l1 25l1 6l1 49l1 43l1 17l1-98l1-14l1 38l1 76l1-22l1-72l1-28l1 10l1 28l1-1l1-46l1-46l1-22l1 73l1 37l1-38l1-8l1-25l1 63l1 3l1-22l1-27l1-25l1 28l1 38l1-19l1-48l1-38l1 49l1 40l1 54l1-45l1 21l1-76l1-44l1 6l1-17l1 39l1 22l1 59l1-69l1-97l1-47l1 34l1 42l1 47l1 7l1 3l1-1l1-1l1-4l1-30l1-78l1-48l1 84l1 27l1-14l1-18l1-5l1 6l1 44l1 24l1-38l1-101l1 59l1 0l1 14l1-25l1-48l1-34l1-16l1 9l1-34l1-30l1 65l1 55l1 48l1 47l1-28l1-28l1-6l1 21l1-51l1-62l1-18l1 18" fill="none" stroke="#9c9c9c" stroke-width="0.4" stroke-opacity="0.85"/>
<path transform="translate(542.69,0) scale(0.37678,0.1)" vector-effect="non-scaling-stroke" d="M0 624l1-45l1 26l1-53l1-64l1 4l1-80l1 105l1 14l1-80l1-75l1-35l1 23l1-17l1-54l1 4l1 10l1-7l1-22l1 75l1 57l1-10l1 129l1-23l1 80l1-111l1-86l1 41l1 119l1 17l1 34l1-39l1 38l1 11l1-108l1 24l1-80l1-57l1 33l1 85l1-16l1-101l1-67l1 136l1 153l1-113l1-40l1-65l1 119l1 18l1-57l1-43l1-64l1 51l1 113l1-81l1-64l1-12l1 80l1 80l1-5l1 27l1-51l1-16l1 45l1 7l1-68l1-44l1-77l1-49l1-16l1 10l1 52l1 16l1 109l1 14l1-15l1-59l1-78l1 44l1 77l1-81l1-48l1-19l1 45l1 132l1 55l1-27l1-165l1-34l1 95l1 66l1 8l1-57l1-89l1 52l1-55l1-73l1-19l1 39l1 30l1-32l1 110l1-52l1 13l1 1l1-57l1 27l1 39l1 65l1-33l1-92l1-12l1 6l1 22l1 26l1 149l1 78l1-61l1-6l1-53l1 62l1 48l1-3l1-82l1-59l1 11l1 89l1 68l1-95l1-59l1 85l1 39l1 18l1-105l1 10l1 116l1 17l1 55l1-138l1-103l1 32l1 49l1 46l1 73l1-65l1-71l1 97l1 73l1-190l1-165l1-123l1 179l1 190l1 44l1-21l1-108l1 48l1 104l1 13l1-134l1-77l1 70l1 72l1 103l1-63l1-186l1 65l1 164l1-26l1-25l1-84l1-6l1 33l1 59l1-12l1-188l1 137l1 49l1 73l1-42l1-40l1-126l1 78l1 177l1-56l1-76l1-114l1 4l1 209l1-5l1 35l1 4l1-18l1-58l1-86l1-27l1 28l1 26l1 119l1 35l1-53l1-74l1-46l1 5l1 21l1-40l1 1l1 5l1 69l1 52l1 7l1 125l1-33l1 8l1-22l1 53l1 1l1 102l1-67l1-72l1-28l1-65l1-27l1-55l1 18l1 53l1 13l1 85l1 6l1-28l1 37l1 2l1-96l1-61l1 77l1 46l1 43l1 18l1-7l1-19l1 5l1-103l1-27l1-25l1-34l1 54l1-88l1 62l1 3l1 101l1 203l1 13l1 0l1 0l1-147l1-45l1-16l1-91l1-41l1-62l1 30l1 255l1-66l1-17l1-50l1-47l1 72l1-17l1-71l1-153l1 102l1 56l1 56l1 28l1-31l1-22l1 77l1 21l1-82l1-160l1-95l1 143l1 45l1-49l1-32l1-73l1 72l1 39l1 82l1-105l1-15l1 86l1 27l1-6l1-47l1-79l1 15l1 87l1 40l1-87l1-98l1 72l1 84l1 79l1-26l1-136l1-30l1 17l1 44l1 68l1-160l1-129l1-32l1 302l1-76l1-30l1-54l1-3l1 91l1-27l1 15l1-116l1-138l1 107l1 128l1-58l1-50l1 49l1 9l1 56l1 14l1 32l1 22l1-84l1-118l1-30l1-56l1 28l1 113l1 89l1 13l1-116l1-53l1-22l1 114l1-11l1-7l1-43l1-26l1 56l1 101l1-94l1-82l1-98l1 149l1 92l1-41l1 33l1 26l1-11l1-76l1-64l1-15l1-57l1 116" fill="none" stroke="#6cb46c" stroke-width="0.4" stroke-opacity="0.85"/>
<defs><path id="sjg" transform="translate(542.5,0) scale(1.39293,0.1)" vector-effect="non-scaling-stroke" d="M0 329l1 2l1 2l1 2l1 2l1 3l1 3l1 3l1 4l1 4l1 4l1 5l1 4l1 5l1 5l1 5l1 6l1 5l1 5l1 4l1 5l1 5l1 4l1 4l1 4l1 1l1 0l1-3l1-5l1-6l1-5l1-3l1-1l1 2l1 4l1 7l1 9l1 11l1 14l1 14l1 15l1 16l1 16l1 15l1 14l1 13l1 11l1 9l1 8l1 7l1 6l1 6l1 5l1 5l1 4l1 4l1 4l1 3l1 2l1 2l1 2l1 2l1 2l1 2l1 2l1 1l1 2l1 0l1 0l1 0l1-2l1-2l1-3l1-5l1-6l1-7l1-9l1-10l1-11l1-11l1-12l1-11l1-11l1-10l1-10l1-10l1-10l1-10l1-11l1-11l1-13l1-13l1-14l1-14l1-15l1-14l1-15l1-15l1-14l1-15"/><path id="sjc" transform="translate(542.5,0) scale(1.39293,0.1)" vector-effect="non-scaling-stroke" d="M0 469l1-1l1-1l1-1l1-1l1-2l1-1l1-2l1-3l1-2l1-3l1-4l1-3l1-4l1-5l1-4l1-5l1-5l1-4l1-4l1-2l1-1l1 1l1 3l1 4l1 7l1 7l1 9l1 8l1 9l1 8l1 7l1 7l1 7l1 7l1 6l1 7l1 7l1 8l1 7l1 8l1 8l1 8l1 8l1 7l1 7l1 6l1 5l1 6l1 5l1 5l1 6l1 6l1 6l1 7l1 7l1 7l1 8l1 7l1 7l1 6l1 6l1 5l1 5l1 3l1 3l1 1l1 0l1-2l1-3l1-6l1-8l1-10l1-12l1-14l1-13l1-14l1-13l1-11l1-11l1-10l1-10l1-10l1-9l1-10l1-11l1-10l1-11l1-11l1-10l1-11l1-10l1-9l1-9l1-8l1-8l1-8l1-7l1-8l1-7"/></defs>
<use href="#sjg" fill="none" stroke="#b8b8b8" stroke-width="2" stroke-opacity="0.35" stroke-linejoin="round"/>
<use href="#sjc" fill="none" stroke="#a8d4a8" stroke-width="4.40" stroke-opacity="0.55" stroke-linejoin="round"/>
<use href="#sjc" transform="translate(0,-2.20)" fill="none" stroke="#24803a" stroke-width="0.5" stroke-opacity="0.55"/>
<use href="#sjc" transform="translate(0,2.20)" fill="none" stroke="#24803a" stroke-width="0.5" stroke-opacity="0.55"/>
<use href="#sjg" fill="none" stroke="#505050" stroke-width="0.85" stroke-linejoin="round"/>
<use href="#sjc" fill="none" stroke="#24803a" stroke-width="0.85" stroke-linejoin="round"/>
</g>
<line x1="573.4" y1="13.4" x2="573.4" y2="94.3" stroke="#b5555e" stroke-width="1.1"/>
<line x1="599.5" y1="13.4" x2="599.5" y2="94.3" stroke="#b5555e" stroke-width="1.1"/>
<rect x="542.5" y="13.4" width="137.89999999999998" height="80.89999999999999" fill="none" stroke="#c9c9c9" stroke-width="1"/>
<line x1="542.5" y1="57.894999999999996" x2="542.5" y2="94.3" stroke="#b0b0b0" stroke-width="1"/>
<line x1="542.5" y1="94.3" x2="542.5" y2="95.2" stroke="#444" stroke-width="0.7"/>
<text x="542.5" y="98.6" font-size="3.7" text-anchor="middle" fill="#555" textLength="11.2" lengthAdjust="spacingAndGlyphs">January</text>
<line x1="565.29" y1="94.3" x2="565.29" y2="95.2" stroke="#444" stroke-width="0.7"/>
<text x="565.29" y="98.6" font-size="3.7" text-anchor="middle" fill="#555" textLength="8.7" lengthAdjust="spacingAndGlyphs">March</text>
<line x1="588.47" y1="94.3" x2="588.47" y2="95.2" stroke="#444" stroke-width="0.7"/>
<text x="588.47" y="98.6" font-size="3.7" text-anchor="middle" fill="#555" textLength="5.6" lengthAdjust="spacingAndGlyphs">May</text>
<line x1="611.64" y1="94.3" x2="611.64" y2="95.2" stroke="#444" stroke-width="0.7"/>
<text x="611.64" y="98.6" font-size="3.7" text-anchor="middle" fill="#555" textLength="5.8" lengthAdjust="spacingAndGlyphs">July</text>
<line x1="635.19" y1="94.3" x2="635.19" y2="95.2" stroke="#444" stroke-width="0.7"/>
<text x="635.19" y="98.6" font-size="3.7" text-anchor="middle" fill="#555" textLength="14.1" lengthAdjust="spacingAndGlyphs">September</text>
<line x1="658.37" y1="94.3" x2="658.37" y2="95.2" stroke="#444" stroke-width="0.7"/>
<text x="658.37" y="98.6" font-size="3.7" text-anchor="middle" fill="#555" textLength="13.8" lengthAdjust="spacingAndGlyphs">November</text>
<text x="610.76" y="103.6" font-size="4.9" text-anchor="middle" fill="#222" stroke="#222" stroke-width="0.15" textLength="7.8" lengthAdjust="spacingAndGlyphs">Date</text>
<line x1="541.5" y1="94.4" x2="542.5" y2="94.4" stroke="#555" stroke-width="0.6"/>
<text x="540.9" y="95.9" font-size="3.5" text-anchor="end" fill="#555">0</text>
<line x1="541.5" y1="76.3" x2="542.5" y2="76.3" stroke="#555" stroke-width="0.6"/>
<text x="540.9" y="77.8" font-size="3.5" text-anchor="end" fill="#555">20</text>
<line x1="541.5" y1="58.1" x2="542.5" y2="58.1" stroke="#555" stroke-width="0.6"/>
<text x="540.9" y="59.6" font-size="3.5" text-anchor="end" fill="#555">40</text>
<line x1="541.5" y1="40.2" x2="542.5" y2="40.2" stroke="#555" stroke-width="0.6"/>
<text x="540.9" y="41.7" font-size="3.5" text-anchor="end" fill="#555">60</text>
<line x1="541.5" y1="21.7" x2="542.5" y2="21.7" stroke="#555" stroke-width="0.6"/>
<text x="540.9" y="23.2" font-size="3.5" text-anchor="end" fill="#555">80</text>
<text transform="translate(535.6,54.7) rotate(-90)" font-size="4.5" text-anchor="middle" fill="#222" stroke="#222" stroke-width="0.1" textLength="22.4" lengthAdjust="spacingAndGlyphs">PM₁₀ (µg/m³)</text>
<text x="554.7" y="90.5" font-size="3.2" font-weight="bold" text-anchor="middle" fill="#111" textLength="3.4" lengthAdjust="spacingAndGlyphs">P1</text>
<text x="584.3" y="90.5" font-size="3.2" font-weight="bold" text-anchor="middle" fill="#111" textLength="3.4" lengthAdjust="spacingAndGlyphs">P2</text>
<text x="635.3" y="90.5" font-size="3.2" font-weight="bold" text-anchor="middle" fill="#111" textLength="3.4" lengthAdjust="spacingAndGlyphs">P3</text>
<rect x="647.2" y="15.7" width="5.5" height="5" fill="#dadada"/>
<line x1="647.2" y1="18.2" x2="652.7" y2="18.2" stroke="#505050" stroke-width="0.8"/>
<rect x="647.2" y="21.1" width="5.5" height="5.4" fill="#a8d4a8" fill-opacity="0.65"/>
<line x1="647.2" y1="23.8" x2="652.7" y2="23.8" stroke="#24803a" stroke-width="0.8"/>
<text x="654.5" y="19.7" font-size="4.4" fill="#222" stroke="#222" stroke-width="0.12" textLength="24.3" lengthAdjust="spacingAndGlyphs">Mean 2006 - 2019</text>
<text x="654.5" y="25.5" font-size="4.4" fill="#222" stroke="#222" stroke-width="0.12" textLength="15" lengthAdjust="spacingAndGlyphs">Mean 2020</text>
<clipPath id="cpb"><rect x="34.5" y="124.8" width="147.0" height="86.7"/></clipPath>
<g clip-path="url(#cpb)">
<path transform="translate(34.7,0) scale(0.40164,0.1)" vector-effect="non-scaling-stroke" d="M0 1668l1 118l1 63l1 11l1-45l1-68l1-56l1 106l1-44l1-80l1 62l1-7l1 1l1-38l1-84l1 91l1 95l1 13l1-2l1 7l1 17l1-3l1 11l1-86l1 13l1 37l1-19l1-7l1-119l1-29l1 47l1-2l1-49l1 32l1 101l1 35l1-3l1-12l1 1l1-52l1 70l1 0l1-36l1-72l1-40l1 44l1-29l1 11l1 67l1 17l1 19l1-3l1-11l1-18l1-20l1 61l1-5l1-30l1-71l1 89l1 41l1-55l1-81l1-168l1 139l1 116l1-25l1-46l1-12l1 84l1-17l1-37l1-61l1 74l1 56l1-67l1-23l1-17l1 20l1 0l1-32l1 2l1 18l1 47l1 30l1-1l1-101l1 0l1-3l1 1l1 72l1 44l1 13l1 1l1 0l1-19l1-112l1 81l1 40l1-33l1-78l1-25l1 58l1 50l1-38l1-20l1-39l1 55l1 35l1-24l1 0l1 31l1 16l1 12l1-1l1-88l1 40l1 36l1 14l1 6l1 19l1 27l1-8l1-26l1-68l1-117l1 106l1 56l1-39l1-57l1-27l1 81l1-9l1-19l1-28l1-89l1 80l1 48l1-87l1-116l1 91l1 94l1-5l1-37l1-66l1-14l1 28l1-18l1 112l1 16l1-15l1-30l1-49l1-32l1-5l1 88l1 2l1-3l1-31l1 19l1 18l1-3l1-51l1-32l1 6l1 97l1-10l1-10l1 2l1 0l1-16l1-46l1-2l1-43l1 0l1-30l1 68l1 83l1-1l1 2l1 18l1-69l1-89l1 65l1 31l1-4l1-116l1-38l1 58l1 36l1-6l1-39l1-2l1 100l1 77l1-21l1-72l1 0l1 66l1-49l1-63l1-111l1 27l1 64l1 106l1-12l1-63l1-68l1 83l1 57l1-22l1 12l1-9l1 27l1-7l1 8l1-9l1 7l1 6l1 18l1-36l1-38l1 59l1 33l1 16l1-145l1-207l1 270l1 33l1-17l1-39l1-50l1 76l1 22l1-7l1-36l1-5l1 73l1 7l1 26l1-11l1-21l1 23l1-1l1-39l1-31l1 48l1 22l1-22l1-60l1 62l1 15l1 29l1-3l1-63l1-11l1 107l1-26l1-61l1-102l1-12l1 94l1 42l1 9l1-68l1 2l1 103l1 13l1-24l1-17l1-51l1-39l1 13l1 29l1-27l1 102l1-12l1-55l1-15l1 58l1 30l1 32l1-15l1-24l1-35l1 62l1-75l1-19l1-72l1 145l1 46l1-42l1-13l1-40l1-23l1 15l1-23l1 27l1 13l1 56l1 30l1-1l1-4l1-14l1 5l1 21l1-21l1-75l1 21l1 9l1 59l1-46l1-73l1 53l1 58l1 7l1-40l1-81l1 106l1 40l1-49l1-81l1 90l1 46l1-3l1-47l1-41l1 47l1 15l1 8l1 10l1 10l1-16l1 31l1-27l1-22l1-54l1 65l1 42l1 37l1-94l1-49l1 93l1-5l1-9l1-51l1-1l1 43l1 26l1-24l1-145l1 13l1-44l1 52l1-3l1-10l1 77l1 100l1 15l1-82l1-43l1-42l1-66l1 11l1 82l1 23" fill="none" stroke="#9c9c9c" stroke-width="0.4" stroke-opacity="0.85"/>
<path transform="translate(34.7,0) scale(0.40164,0.1)" vector-effect="non-scaling-stroke" d="M0 1714l1 120l1 117l1 0l1 100l1-119l1 67l1-45l1-47l1-271l1 0l1-49l1 137l1-19l1-37l1 55l1 83l1 110l1-47l1-189l1 22l1 161l1 54l1-61l1-138l1 56l1 224l1 112l1-421l1 26l1 116l1 80l1-110l1-43l1 77l1 4l1 109l1 26l1-278l1 174l1 210l1-152l1-69l1-34l1 62l1 151l1-49l1-143l1-204l1 273l1 151l1-82l1-227l1-197l1 37l1 95l1-26l1-6l1 15l1 200l1 162l1-29l1-264l1 71l1 21l1 133l1-85l1-284l1-28l1 318l1 62l1-79l1-125l1 46l1 205l1-192l1-59l1-123l1 179l1 110l1-102l1 7l1-92l1 189l1 28l1-282l1-153l1 258l1 171l1 77l1-17l1-160l1-155l1 76l1 151l1-195l1-69l1 124l1 65l1 48l1-22l1-89l1 30l1 137l1-10l1-80l1-141l1 180l1 222l1-7l1-368l1-100l1 198l1 94l1-128l1-138l1 92l1 123l1-13l1-191l1-131l1 158l1 192l1 27l1-89l1-134l1 96l1 129l1-121l1-62l1-100l1 43l1 134l1-11l1-134l1-36l1 270l1 15l1-128l1-76l1 95l1 89l1-8l1-7l1-55l1 25l1 12l1-59l1-64l1 3l1 25l1 241l1-38l1-270l1-32l1 142l1 43l1-31l1-14l1 37l1-59l1-23l1-50l1-170l1 29l1 259l1-97l1-42l1-59l1 136l1 68l1-94l1-70l1-43l1 163l1 106l1-186l1-122l1-66l1-28l1 2l1-40l1 13l1-60l1 315l1-6l1-18l1-89l1-7l1 127l1 190l1-46l1-219l1-160l1-10l1 73l1 31l1-76l1 191l1 147l1 47l1-123l1-252l1 146l1 112l1-92l1-34l1-62l1 137l1 76l1-244l1 11l1 72l1 116l1-27l1-67l1-121l1-4l1 128l1 75l1 105l1-29l1 0l1 33l1-73l1-155l1-140l1 2l1 52l1 165l1 49l1 156l1 39l1-96l1-193l1-38l1 22l1 80l1-71l1-67l1 76l1 51l1 26l1 21l1-376l1 138l1 230l1 56l1-95l1-19l1-137l1 35l1 4l1-76l1-18l1 68l1-107l1 108l1-31l1 43l1 90l1 144l1 70l1-129l1-69l1 26l1 44l1-5l1-91l1-117l1 61l1 62l1 192l1-219l1-93l1 311l1-67l1-237l1-241l1 24l1 339l1 111l1 38l1 0l1-168l1-212l1-18l1 182l1 38l1-39l1 214l1 15l1-111l1-48l1 73l1 72l1-66l1-97l1-60l1 87l1 164l1-16l1-11l1 8l1 219l1 50l1-106l1-261l1-276l1 112l1 51l1-25l1-2l1 90l1 149l1-34l1-95l1-82l1 23l1 143l1-37l1-77l1-85l1 156l1 49l1 28l1 64l1 8l1-163l1-33l1 79l1 60l1 76l1-9l1-111l1-44l1-186l1 129l1 126l1 83l1-257l1-42l1 165l1 50l1-51l1-190l1-16l1 36l1-62l1 81l1 27l1-51l1 185l1 205l1-135l1-167l1 29l1 108l1 159l1 64l1 37l1-21l1-169l1 52l1-36l1 61" fill="none" stroke="#f4a45a" stroke-width="0.4" stroke-opacity="0.85"/>
<defs><path id="sbg" transform="translate(34.5,0) scale(1.48485,0.1)" vector-effect="non-scaling-stroke" d="M0 1775l1-2l1-3l1-3l1-3l1-2l1-2l1-3l1-2l1-2l1-1l1-1l1-1l1-1l1-1l1 0l1 0l1 0l1 0l1 1l1 0l1 0l1-1l1-1l1-2l1-2l1-3l1-4l1-4l1-4l1-5l1-5l1-5l1-6l1-5l1-6l1-6l1-6l1-6l1-5l1-6l1-6l1-5l1-5l1-5l1-5l1-5l1-4l1-4l1-4l1-3l1-2l1-2l1-1l1-1l1 0l1 1l1 2l1 3l1 4l1 4l1 5l1 6l1 6l1 6l1 6l1 6l1 7l1 6l1 6l1 7l1 6l1 6l1 6l1 6l1 6l1 5l1 6l1 5l1 5l1 4l1 4l1 4l1 4l1 4l1 3l1 3l1 2l1 2l1 2l1 2l1 1l1 0l1-1l1-1l1-2l1-2l1-3l1-3l1-2"/><path id="sbc" transform="translate(34.5,0) scale(1.48485,0.1)" vector-effect="non-scaling-stroke" d="M0 1821l1 1l1 1l1 1l1 2l1 1l1 1l1 1l1 2l1 1l1 1l1 2l1 1l1 2l1 1l1 2l1 1l1 2l1 1l1 1l1 0l1-1l1-2l1-3l1-5l1-5l1-6l1-7l1-6l1-6l1-6l1-6l1-4l1-5l1-4l1-5l1-5l1-5l1-5l1-5l1-6l1-6l1-6l1-5l1-5l1-5l1-5l1-4l1-4l1-3l1-3l1-3l1-2l1-2l1-2l1-1l1-1l1 0l1-1l1 0l1 0l1 0l1 1l1 1l1 1l1 2l1 3l1 3l1 4l1 4l1 4l1 5l1 4l1 4l1 4l1 3l1 4l1 3l1 4l1 3l1 4l1 4l1 4l1 4l1 3l1 4l1 4l1 3l1 3l1 4l1 3l1 4l1 4l1 4l1 4l1 5l1 6l1 5l1 6l1 4"/></defs>
<use href="#sbg" fill="none" stroke="#b8b8b8" stroke-width="3.91" stroke-opacity="0.45" stroke-linejoin="round"/>
<use href="#sbg" transform="translate(0,-1.95)" fill="none" stroke="#505050" stroke-width="0.5" stroke-opacity="0.55"/>
<use href="#sbg" transform="translate(0,1.95)" fill="none" stroke="#505050" stroke-width="0.5" stroke-opacity="0.55"/>
<use href="#sbc" fill="none" stroke="#f8c898" stroke-width="4.60" stroke-opacity="0.55" stroke-linejoin="round"/>
<use href="#sbc" transform="translate(0,-2.30)" fill="none" stroke="#ec7a1e" stroke-width="0.5" stroke-opacity="0.55"/>
<use href="#sbc" transform="translate(0,2.30)" fill="none" stroke="#ec7a1e" stroke-width="0.5" stroke-opacity="0.55"/>
<use href="#sbg" fill="none" stroke="#505050" stroke-width="0.85" stroke-linejoin="round"/>
<use href="#sbc" fill="none" stroke="#ec7a1e" stroke-width="0.85" stroke-linejoin="round"/>
</g>
<line x1="66.8" y1="124.8" x2="66.8" y2="211.5" stroke="#d4949a" stroke-width="1.5"/>
<line x1="95.3" y1="124.8" x2="95.3" y2="211.5" stroke="#c0707a" stroke-width="1.3"/>
<rect x="34.5" y="124.8" width="147.0" height="86.7" fill="none" stroke="#c9c9c9" stroke-width="1"/>
<line x1="34.5" y1="172.485" x2="34.5" y2="211.5" stroke="#b0b0b0" stroke-width="1"/>
<line x1="34.5" y1="211.5" x2="34.5" y2="212.4" stroke="#444" stroke-width="0.7"/>
<text x="34.5" y="215.8" font-size="3.7" text-anchor="middle" fill="#555" textLength="11.2" lengthAdjust="spacingAndGlyphs">January</text>
<line x1="58.8" y1="211.5" x2="58.8" y2="212.4" stroke="#444" stroke-width="0.7"/>
<text x="58.8" y="215.8" font-size="3.7" text-anchor="middle" fill="#555" textLength="8.7" lengthAdjust="spacingAndGlyphs">March</text>
<line x1="83.5" y1="211.5" x2="83.5" y2="212.4" stroke="#444" stroke-width="0.7"/>
<text x="83.5" y="215.8" font-size="3.7" text-anchor="middle" fill="#555" textLength="5.6" lengthAdjust="spacingAndGlyphs">May</text>
<line x1="108.2" y1="211.5" x2="108.2" y2="212.4" stroke="#444" stroke-width="0.7"/>
<text x="108.2" y="215.8" font-size="3.7" text-anchor="middle" fill="#555" textLength="5.8" lengthAdjust="spacingAndGlyphs">July</text>
<line x1="133.31" y1="211.5" x2="133.31" y2="212.4" stroke="#444" stroke-width="0.7"/>
<text x="133.31" y="215.8" font-size="3.7" text-anchor="middle" fill="#555" textLength="14.1" lengthAdjust="spacingAndGlyphs">September</text>
<line x1="158.01" y1="211.5" x2="158.01" y2="212.4" stroke="#444" stroke-width="0.7"/>
<text x="158.01" y="215.8" font-size="3.7" text-anchor="middle" fill="#555" textLength="13.8" lengthAdjust="spacingAndGlyphs">November</text>
<text x="107.27" y="220.8" font-size="4.9" text-anchor="middle" fill="#222" stroke="#222" stroke-width="0.15" textLength="7.8" lengthAdjust="spacingAndGlyphs">Date</text>
<line x1="33.5" y1="211.3" x2="34.5" y2="211.3" stroke="#555" stroke-width="0.6"/>
<text x="32.9" y="212.8" font-size="3.5" text-anchor="end" fill="#555">0</text>
<line x1="33.5" y1="190.4" x2="34.5" y2="190.4" stroke="#555" stroke-width="0.6"/>
<text x="32.9" y="191.9" font-size="3.5" text-anchor="end" fill="#555">20</text>
<line x1="33.5" y1="169.9" x2="34.5" y2="169.9" stroke="#555" stroke-width="0.6"/>
<text x="32.9" y="171.4" font-size="3.5" text-anchor="end" fill="#555">40</text>
<line x1="33.5" y1="149.9" x2="34.5" y2="149.9" stroke="#555" stroke-width="0.6"/>
<text x="32.9" y="151.4" font-size="3.5" text-anchor="end" fill="#555">60</text>
<line x1="33.5" y1="130" x2="34.5" y2="130" stroke="#555" stroke-width="0.6"/>
<text x="32.9" y="131.5" font-size="3.5" text-anchor="end" fill="#555">80</text>
<text transform="translate(26.2,167.8) rotate(-90)" font-size="4.5" text-anchor="middle" fill="#222" stroke="#222" stroke-width="0.1" textLength="22.4" lengthAdjust="spacingAndGlyphs">NO₂ (µg/m³)</text>
<text x="47" y="205.1" font-size="3.2" font-weight="bold" text-anchor="middle" fill="#111" textLength="3.4" lengthAdjust="spacingAndGlyphs">P1</text>
<text x="82.3" y="205.1" font-size="3.2" font-weight="bold" text-anchor="middle" fill="#111" textLength="3.4" lengthAdjust="spacingAndGlyphs">P2</text>
<text x="132.5" y="205.1" font-size="3.2" font-weight="bold" text-anchor="middle" fill="#111" textLength="3.4" lengthAdjust="spacingAndGlyphs">P3</text>
<rect x="148.3" y="127.1" width="5.5" height="5" fill="#dadada"/>
<line x1="148.3" y1="129.6" x2="153.8" y2="129.6" stroke="#505050" stroke-width="0.8"/>
<rect x="148.3" y="132.5" width="5.5" height="5.4" fill="#f8c898" fill-opacity="0.65"/>
<line x1="148.3" y1="135.2" x2="153.8" y2="135.2" stroke="#ec7a1e" stroke-width="0.8"/>
<text x="155.6" y="131.1" font-size="4.4" fill="#222" stroke="#222" stroke-width="0.12" textLength="24.3" lengthAdjust="spacingAndGlyphs">Mean 2006 - 2019</text>
<text x="155.6" y="136.9" font-size="4.4" fill="#222" stroke="#222" stroke-width="0.12" textLength="15" lengthAdjust="spacingAndGlyphs">Mean 2020</text>
<clipPath id="cpe"><rect x="207.5" y="124.6" width="145.0" height="86.9"/></clipPath>
<g clip-path="url(#cpe)">
<path transform="translate(207.7,0) scale(0.39617,0.1)" vector-effect="non-scaling-stroke" d="M0 1635l1 62l1 59l1 30l1-80l1-217l1 85l1 67l1 72l1-19l1-2l1-8l1 70l1 74l1 3l1-128l1 20l1 71l1-3l1-20l1-30l1-43l1 42l1 31l1-22l1 3l1-32l1 33l1 27l1-26l1-18l1-34l1 44l1 27l1 2l1-29l1-5l1-51l1 99l1 10l1-11l1-53l1-33l1 40l1 37l1 74l1-54l1-39l1 30l1 47l1-35l1-54l1-29l1-9l1 6l1 2l1-11l1 18l1 37l1 20l1 35l1-124l1-44l1 36l1 123l1 42l1-39l1-31l1-18l1-47l1-22l1 27l1-9l1-5l1 35l1 41l1 21l1-24l1-36l1-17l1 15l1 0l1-20l1 16l1-22l1 82l1 33l1-24l1 14l1 20l1-15l1 2l1-8l1-62l1 14l1 14l1 24l1-6l1-50l1 9l1 10l1 26l1 15l1-55l1-13l1 11l1 99l1-2l1-22l1-45l1-51l1 47l1 36l1-15l1-11l1-2l1 68l1 1l1-45l1-25l1 14l1 5l1 33l1 26l1-28l1-40l1-48l1 11l1-30l1 24l1 11l1 68l1 30l1 36l1-53l1-21l1-13l1 16l1 1l1-36l1-8l1 22l1 96l1 7l1-11l1-38l1-6l1 76l1-61l1 11l1-38l1 9l1-1l1 1l1-9l1-9l1 7l1-14l1 76l1-3l1-19l1-40l1 53l1 23l1 45l1 0l1-82l1-52l1 73l1 44l1-72l1-14l1-46l1-1l1 73l1 12l1-17l1-27l1 45l1 3l1 5l1-83l1-17l1 33l1 8l1 14l1 6l1-23l1-21l1 2l1-3l1-22l1 5l1 18l1 5l1 64l1 1l1-1l1 8l1 0l1-6l1-17l1-76l1-34l1 6l1 89l1 29l1 5l1-23l1 8l1-25l1-45l1-51l1-10l1-15l1 41l1 41l1-12l1-98l1 11l1 15l1 19l1-2l1 33l1 16l1-37l1-17l1-48l1 10l1 29l1 25l1 9l1-10l1-50l1-12l1 45l1 33l1 26l1-50l1-72l1 64l1 75l1-15l1-71l1-64l1 29l1 63l1 35l1-32l1-59l1-8l1 34l1 8l1-22l1-19l1-22l1 20l1 39l1 0l1-30l1-36l1 4l1 21l1 6l1-20l1 7l1 8l1 43l1 9l1-96l1-61l1 42l1 59l1 41l1-6l1-85l1 18l1 44l1 44l1 37l1 2l1-28l1-38l1-53l1-32l1 3l1 74l1-16l1-76l1-42l1 19l1 35l1 45l1 9l1 30l1-60l1-88l1-1l1 18l1 16l1 32l1 38l1 5l1 25l1 39l1 25l1-16l1 6l1-18l1-3l1-9l1 41l1-17l1 5l1 0l1-28l1-42l1 12l1 26l1 29l1 33l1-7l1 20l1 14l1 3l1 1l1-92l1-81l1 16l1 38l1 43l1 30l1-60l1-56l1 27l1 69l1-6l1-22l1-44l1 23l1 54l1 11l1-79l1-28l1 18l1 38l1 22l1-47l1-44l1-6l1 93l1-42l1-46l1-59l1 20l1 52l1 3l1-26l1-32l1 29l1 24l1 4l1-25l1-52l1-20l1 12" fill="none" stroke="#9c9c9c" stroke-width="0.4" stroke-opacity="0.85"/>
<path transform="translate(207.7,0) scale(0.39617,0.1)" vector-effect="non-scaling-stroke" d="M0 1695l1 87l1 15l1 98l1-29l1-19l1 40l1 65l1-39l1-154l1-10l1-111l1 268l1 51l1-47l1-101l1 3l1-39l1 39l1-2l1-119l1-24l1 66l1 79l1-53l1-133l1-28l1 80l1 98l1 99l1-83l1-65l1-38l1-81l1 6l1 2l1-32l1 53l1 57l1 126l1 63l1-84l1-49l1 12l1 30l1-92l1-40l1-74l1 125l1 47l1 40l1 6l1 47l1 28l1 18l1 19l1-27l1-1l1-88l1-4l1 4l1-51l1-110l1-55l1 128l1 4l1 31l1-66l1-89l1 155l1 2l1 50l1-15l1-16l1-33l1 10l1-56l1-77l1-22l1-47l1 98l1 91l1-2l1-44l1-23l1 76l1 76l1-117l1-58l1-95l1 196l1 69l1 7l1-191l1 19l1 37l1 81l1 54l1-65l1 20l1 1l1 14l1-15l1 47l1 43l1 17l1-21l1-109l1-19l1-54l1 13l1 56l1-21l1-35l1 6l1-91l1 134l1 46l1-131l1-92l1-78l1 165l1 74l1 39l1-106l1-37l1-24l1 5l1 11l1 27l1 35l1 30l1 128l1-61l1-154l1 22l1 91l1 123l1 33l1-26l1-144l1-22l1 66l1 45l1 16l1-63l1-70l1 85l1 116l1-23l1-72l1-76l1 11l1 116l1-14l1-67l1-53l1 7l1 36l1 61l1 53l1-119l1-14l1-40l1-39l1 37l1 4l1 6l1 126l1 66l1 28l1-124l1 24l1 60l1-1l1 37l1-193l1-125l1-4l1 97l1 36l1 4l1 72l1 43l1 103l1-12l1-30l1 4l1 1l1-18l1 1l1-49l1-97l1 72l1 24l1 32l1-50l1-97l1 96l1 26l1 33l1-20l1-51l1-45l1 84l1 60l1 7l1 17l1 41l1 19l1-35l1-9l1-128l1-54l1-121l1 131l1 92l1-40l1-84l1-71l1 122l1 36l1 14l1 9l1-63l1 33l1 23l1-109l1-263l1 131l1 130l1 56l1-67l1-78l1-48l1 43l1 129l1-33l1-99l1-31l1 81l1 62l1 57l1-77l1-127l1-33l1 201l1 61l1-93l1-95l1-13l1 15l1 97l1-42l1-113l1-83l1 36l1 31l1 42l1-45l1 28l1 48l1 70l1-54l1-16l1-37l1-54l1 135l1-18l1-44l1-46l1 127l1 71l1 54l1 7l1-172l1-164l1 67l1 36l1 12l1 59l1 49l1 112l1 96l1-143l1-122l1-159l1 3l1 163l1 60l1-156l1-62l1 174l1 39l1-13l1-41l1-118l1 9l1 113l1-18l1-108l1-155l1 107l1 132l1 42l1-54l1-92l1-39l1 89l1 45l1 35l1-69l1 39l1-32l1 40l1 25l1-149l1-109l1 122l1 145l1 76l1-76l1-22l1-62l1-66l1-37l1 4l1 32l1 141l1 29l1 89l1-39l1 13l1 55l1-157l1-118l1 41l1 145l1 72l1 22l1 50l1-75l1-84l1-150l1-46l1 184l1 31l1 103l1 38l1-54l1-28l1-22l1-21l1-259l1 52l1 84l1 123l1 28l1-63l1-107l1 108l1 34l1 26l1-143l1 50l1 74" fill="none" stroke="#f08878" stroke-width="0.4" stroke-opacity="0.85"/>
<defs><path id="seg" transform="translate(207.5,0) scale(1.46465,0.1)" vector-effect="non-scaling-stroke" d="M0 1714l1 4l1 5l1 4l1 4l1 4l1 4l1 4l1 5l1 4l1 4l1 3l1 4l1 2l1 3l1 1l1 2l1 0l1 1l1 0l1 1l1 0l1 0l1 1l1 1l1 2l1 2l1 2l1 3l1 4l1 5l1 5l1 6l1 7l1 8l1 8l1 9l1 10l1 10l1 10l1 9l1 8l1 7l1 4l1 2l1 0l1-3l1-5l1-6l1-7l1-8l1-9l1-9l1-10l1-9l1-10l1-9l1-9l1-8l1-8l1-7l1-7l1-7l1-7l1-7l1-7l1-8l1-7l1-7l1-8l1-7l1-7l1-7l1-6l1-6l1-5l1-3l1-1l1 0l1 3l1 4l1 6l1 7l1 8l1 9l1 8l1 7l1 6l1 2l1-1l1-3l1-6l1-9l1-10l1-11l1-12l1-13l1-13l1-14l1-9"/><path id="sec" transform="translate(207.5,0) scale(1.46465,0.1)" vector-effect="non-scaling-stroke" d="M0 1769l1 5l1 5l1 4l1 3l1 2l1 1l1-1l1-2l1-4l1-4l1-6l1-7l1-7l1-8l1-8l1-8l1-8l1-7l1-7l1-7l1-6l1-5l1-3l1-3l1-2l1 0l1 0l1 2l1 4l1 4l1 7l1 8l1 11l1 12l1 13l1 13l1 12l1 12l1 9l1 8l1 7l1 6l1 6l1 4l1 4l1 3l1 3l1 1l1 0l1-1l1-3l1-4l1-5l1-6l1-7l1-9l1-9l1-10l1-11l1-10l1-11l1-10l1-11l1-10l1-9l1-9l1-9l1-9l1-8l1-7l1-7l1-7l1-6l1-5l1-5l1-4l1-3l1-2l1-2l1-1l1 0l1 1l1 2l1 3l1 3l1 5l1 5l1 5l1 6l1 7l1 6l1 7l1 7l1 7l1 7l1 6l1 7l1 7l1 5"/></defs>
<use href="#seg" fill="none" stroke="#b8b8b8" stroke-width="3.06" stroke-opacity="0.45" stroke-linejoin="round"/>
<use href="#seg" transform="translate(0,-1.53)" fill="none" stroke="#505050" stroke-width="0.5" stroke-opacity="0.55"/>
<use href="#seg" transform="translate(0,1.53)" fill="none" stroke="#505050" stroke-width="0.5" stroke-opacity="0.55"/>
<use href="#sec" fill="none" stroke="#f4aca0" stroke-width="3.60" stroke-opacity="0.55" stroke-linejoin="round"/>
<use href="#sec" transform="translate(0,-1.80)" fill="none" stroke="#e0483a" stroke-width="0.5" stroke-opacity="0.55"/>
<use href="#sec" transform="translate(0,1.80)" fill="none" stroke="#e0483a" stroke-width="0.5" stroke-opacity="0.55"/>
<use href="#seg" fill="none" stroke="#505050" stroke-width="0.85" stroke-linejoin="round"/>
<use href="#sec" fill="none" stroke="#e0483a" stroke-width="0.85" stroke-linejoin="round"/>
</g>
<line x1="239.7" y1="124.6" x2="239.7" y2="211.5" stroke="#b5555e" stroke-width="1.1"/>
<line x1="267.4" y1="124.6" x2="267.4" y2="211.5" stroke="#b5555e" stroke-width="1.1"/>
<rect x="207.5" y="124.6" width="145.0" height="86.9" fill="none" stroke="#c9c9c9" stroke-width="1"/>
<line x1="207.5" y1="172.395" x2="207.5" y2="211.5" stroke="#b0b0b0" stroke-width="1"/>
<line x1="207.5" y1="211.5" x2="207.5" y2="212.4" stroke="#444" stroke-width="0.7"/>
<text x="207.5" y="215.8" font-size="3.7" text-anchor="middle" fill="#555" textLength="11.2" lengthAdjust="spacingAndGlyphs">January</text>
<line x1="231.47" y1="211.5" x2="231.47" y2="212.4" stroke="#444" stroke-width="0.7"/>
<text x="231.47" y="215.8" font-size="3.7" text-anchor="middle" fill="#555" textLength="8.7" lengthAdjust="spacingAndGlyphs">March</text>
<line x1="255.83" y1="211.5" x2="255.83" y2="212.4" stroke="#444" stroke-width="0.7"/>
<text x="255.83" y="215.8" font-size="3.7" text-anchor="middle" fill="#555" textLength="5.6" lengthAdjust="spacingAndGlyphs">May</text>
<line x1="280.2" y1="211.5" x2="280.2" y2="212.4" stroke="#444" stroke-width="0.7"/>
<text x="280.2" y="215.8" font-size="3.7" text-anchor="middle" fill="#555" textLength="5.8" lengthAdjust="spacingAndGlyphs">July</text>
<line x1="304.97" y1="211.5" x2="304.97" y2="212.4" stroke="#444" stroke-width="0.7"/>
<text x="304.97" y="215.8" font-size="3.7" text-anchor="middle" fill="#555" textLength="14.1" lengthAdjust="spacingAndGlyphs">September</text>
<line x1="329.33" y1="211.5" x2="329.33" y2="212.4" stroke="#444" stroke-width="0.7"/>
<text x="329.33" y="215.8" font-size="3.7" text-anchor="middle" fill="#555" textLength="13.8" lengthAdjust="spacingAndGlyphs">November</text>
<text x="279.27" y="220.8" font-size="4.9" text-anchor="middle" fill="#222" stroke="#222" stroke-width="0.15" textLength="7.8" lengthAdjust="spacingAndGlyphs">Date</text>
<line x1="206.5" y1="211.3" x2="207.5" y2="211.3" stroke="#555" stroke-width="0.6"/>
<text x="205.9" y="212.8" font-size="3.5" text-anchor="end" fill="#555">0</text>
<line x1="206.5" y1="194.2" x2="207.5" y2="194.2" stroke="#555" stroke-width="0.6"/>
<text x="205.9" y="195.7" font-size="3.5" text-anchor="end" fill="#555">20</text>
<line x1="206.5" y1="176.9" x2="207.5" y2="176.9" stroke="#555" stroke-width="0.6"/>
<text x="205.9" y="178.4" font-size="3.5" text-anchor="end" fill="#555">40</text>
<line x1="206.5" y1="159.8" x2="207.5" y2="159.8" stroke="#555" stroke-width="0.6"/>
<text x="205.9" y="161.3" font-size="3.5" text-anchor="end" fill="#555">60</text>
<line x1="206.5" y1="142" x2="207.5" y2="142" stroke="#555" stroke-width="0.6"/>
<text x="205.9" y="143.5" font-size="3.5" text-anchor="end" fill="#555">80</text>
<line x1="206.5" y1="124.7" x2="207.5" y2="124.7" stroke="#555" stroke-width="0.6"/>
<text x="205.9" y="126.2" font-size="3.5" text-anchor="end" fill="#555">100</text>
<text transform="translate(196.7,168.6) rotate(-90)" font-size="4.5" text-anchor="middle" fill="#222" stroke="#222" stroke-width="0.1" textLength="19.1" lengthAdjust="spacingAndGlyphs">O₃ (µg/m³)</text>
<text x="219.3" y="206.2" font-size="3.2" font-weight="bold" text-anchor="middle" fill="#111" textLength="3.4" lengthAdjust="spacingAndGlyphs">P1</text>
<text x="254.6" y="206.2" font-size="3.2" font-weight="bold" text-anchor="middle" fill="#111" textLength="3.4" lengthAdjust="spacingAndGlyphs">P2</text>
<text x="304.1" y="206.2" font-size="3.2" font-weight="bold" text-anchor="middle" fill="#111" textLength="3.4" lengthAdjust="spacingAndGlyphs">P3</text>
<rect x="319.3" y="126.9" width="5.5" height="5" fill="#dadada"/>
<line x1="319.3" y1="129.4" x2="324.8" y2="129.4" stroke="#505050" stroke-width="0.8"/>
<rect x="319.3" y="132.3" width="5.5" height="5.4" fill="#f4aca0" fill-opacity="0.65"/>
<line x1="319.3" y1="135" x2="324.8" y2="135" stroke="#e0483a" stroke-width="0.8"/>
<text x="326.6" y="130.9" font-size="4.4" fill="#222" stroke="#222" stroke-width="0.12" textLength="24.3" lengthAdjust="spacingAndGlyphs">Mean 2004 - 2019</text>
<text x="326.6" y="136.7" font-size="4.4" fill="#222" stroke="#222" stroke-width="0.12" textLength="15" lengthAdjust="spacingAndGlyphs">Mean 2020</text>
<clipPath id="cph"><rect x="375.5" y="124.5" width="145.0" height="85.0"/></clipPath>
<g clip-path="url(#cph)">
<path transform="translate(375.7,0) scale(0.39617,0.1)" vector-effect="non-scaling-stroke" d="M0 1834l1 22l1 12l1 2l1-15l1-22l1 26l1 27l1 15l1-2l1-14l1 1l1-3l1-10l1 1l1-31l1-53l1 68l1 3l1 17l1-91l1 58l1 3l1 19l1 15l1-3l1-14l1-16l1-45l1-16l1 22l1 18l1 17l1 20l1-1l1-20l1-23l1 22l1 20l1-14l1-57l1-51l1-82l1 89l1 102l1-43l1-47l1-50l1 83l1 48l1 19l1-68l1-49l1 29l1 56l1 9l1-23l1-28l1-67l1 102l1 29l1-12l1-4l1-12l1 10l1 13l1-6l1-86l1-55l1 90l1 69l1-8l1-20l1-11l1 29l1 1l1 3l1-78l1-33l1 0l1 15l1 4l1-25l1 23l1 68l1 26l1 6l1-3l1-41l1-37l1-9l1 27l1-4l1 35l1-7l1 25l1 21l1-4l1-25l1-44l1-13l1 20l1-1l1 17l1-24l1 16l1 38l1 25l1 18l1 6l1-4l1-29l1-59l1-88l1-59l1 51l1 58l1 55l1 11l1-25l1-70l1 45l1 30l1-4l1-38l1-22l1-87l1-62l1-41l1 102l1 51l1 51l1 41l1 0l1-21l1-45l1 45l1 28l1 14l1-41l1-55l1 38l1 24l1-6l1-15l1-2l1-25l1 14l1 16l1-11l1-44l1-40l1 61l1 9l1 21l1-12l1-1l1-11l1-31l1-48l1 46l1 20l1 22l1 1l1-9l1-61l1-2l1 8l1 29l1 17l1-22l1-114l1-11l1 67l1 66l1-3l1-128l1 66l1 9l1 50l1 15l1-42l1-53l1-28l1-22l1-14l1 58l1 59l1 20l1 9l1-2l1-39l1-3l1-55l1 55l1 41l1 9l1-38l1-10l1 14l1 29l1 24l1-42l1-15l1 48l1 30l1-28l1-16l1-28l1 28l1 23l1 0l1-44l1-12l1-4l1 35l1-47l1 21l1 2l1 28l1 53l1 5l1-34l1 5l1-35l1-12l1 13l1-11l1 49l1 35l1-13l1 3l1 5l1-2l1 7l1-8l1-1l1-10l1-39l1-46l1 47l1 50l1 10l1 13l1-12l1 2l1 6l1-1l1-32l1-27l1-16l1 49l1 30l1-36l1-31l1-53l1 115l1 39l1 4l1-30l1-41l1-43l1 3l1 10l1 4l1 34l1 40l1 43l1-24l1-42l1-23l1 50l1-7l1 19l1-16l1 0l1-53l1 40l1 28l1-7l1-42l1 17l1 5l1 21l1-12l1-23l1-16l1 10l1 48l1 27l1-27l1-65l1-12l1 37l1-5l1 0l1 8l1 45l1 12l1 28l1-12l1 6l1-17l1 9l1 26l1-22l1-65l1-10l1 51l1 29l1-12l1-10l1 12l1 7l1 6l1 3l1-30l1 5l1 10l1 40l1 16l1-42l1-51l1-19l1 74l1-34l1-51l1-51l1 27l1 4l1 20l1-23l1-8l1 16l1 29l1 57l1 29l1-91l1 28l1 45l1 9l1-8l1-42l1 27l1 29l1 18l1-14l1-53l1-38l1 51l1 39l1-1l1-12l1-53l1 38l1 3l1 0l1-4l1-7l1-30l1 52l1 39l1-22l1 12l1-12l1-11" fill="none" stroke="#9c9c9c" stroke-width="0.4" stroke-opacity="0.85"/>
<path transform="translate(375.7,0) scale(0.39617,0.1)" vector-effect="non-scaling-stroke" d="M0 1834l1-58l1-84l1-64l1 116l1 113l1 68l1 30l1-50l1-43l1-54l1 33l1 40l1 30l1 28l1 3l1 21l1-17l1-1l1-41l1 0l1-76l1-9l1-35l1 5l1-49l1 19l1 102l1 3l1 81l1-73l1-101l1 83l1 63l1-18l1-22l1-92l1-3l1 82l1 65l1 22l1-93l1-41l1 117l1 22l1-60l1-109l1 59l1 62l1 30l1-20l1-8l1-5l1-85l1 102l1 15l1-61l1-22l1-68l1 39l1 37l1-33l1 8l1 38l1 33l1 60l1-101l1-19l1-57l1 58l1-18l1-86l1 56l1-48l1 113l1 114l1-114l1-77l1 141l1 56l1 103l1-5l1-76l1-19l1 46l1 19l1 7l1-46l1-86l1-143l1 149l1 17l1 11l1-39l1-46l1-68l1-83l1-41l1 26l1 36l1 123l1 121l1 41l1-76l1-92l1-25l1 69l1 94l1-110l1-178l1 9l1 117l1 72l1 34l1-29l1-31l1 39l1 2l1-43l1-132l1 8l1 92l1 46l1-112l1-34l1-11l1 186l1 105l1-153l1-151l1-122l1 130l1 153l1 1l1-65l1-266l1 119l1 72l1 70l1-18l1-125l1-14l1 63l1 123l1-12l1-122l1-67l1 166l1 69l1-133l1-133l1-133l1 254l1 97l1-114l1-49l1-5l1-100l1 10l1-83l1 70l1 152l1 190l1 17l1 89l1-68l1-111l1-118l1 53l1 113l1-40l1 49l1-20l1 30l1-38l1 18l1-24l1-20l1-58l1 86l1-78l1-101l1 0l1 76l1 66l1-16l1 38l1 60l1 0l1-12l1-2l1-56l1-184l1 134l1 11l1 86l1-74l1-132l1-32l1 37l1 110l1-37l1-26l1-64l1-9l1 140l1 8l1-79l1-324l1 145l1 241l1-38l1-228l1-46l1 277l1 167l1-72l1-186l1-63l1 99l1 136l1-43l1 30l1-162l1-6l1 141l1 76l1 32l1-68l1-128l1 100l1 39l1 0l1-40l1-266l1 85l1 200l1-97l1-103l1-252l1 245l1 228l1-36l1-235l1 59l1 123l1 22l1 80l1-50l1-42l1-53l1 135l1-22l1 111l1 14l1-60l1-184l1-155l1 33l1-99l1 69l1 310l1 99l1-28l1-75l1-222l1-13l1 327l1 6l1-97l1-96l1-210l1 227l1 89l1-124l1-54l1-130l1 278l1 37l1-51l1-9l1-35l1-9l1-8l1 107l1-8l1-166l1 103l1 230l1-100l1-112l1-94l1 38l1 114l1-39l1-79l1-67l1 34l1 179l1 17l1-73l1-66l1-17l1 62l1 104l1-5l1-113l1 18l1 1l1 103l1 58l1-168l1-278l1 93l1 251l1-163l1-52l1-273l1 106l1 178l1 29l1-88l1 125l1-16l1 140l1 36l1-103l1-273l1-128l1 317l1 252l1 13l1 70l1 23l1-36l1-38l1-15l1-137l1-194l1 125l1 77l1 128l1-65l1-142l1 16l1 174l1-66l1-144l1-27l1 11l1 154l1 48l1 8l1 19l1-35l1 42l1-19l1-30l1-77l1-86l1 44l1 81l1 39l1-225l1 58l1 127" fill="none" stroke="#6a6af8" stroke-width="0.4" stroke-opacity="0.85"/>
<defs><path id="shg" transform="translate(375.5,0) scale(1.46465,0.1)" vector-effect="non-scaling-stroke" d="M0 1857l1-2l1-2l1-3l1-2l1-2l1-2l1-3l1-2l1-2l1-2l1-2l1-2l1-1l1-1l1 0l1 0l1 1l1 2l1 2l1 2l1 2l1 2l1 2l1 0l1 0l1-2l1-3l1-4l1-6l1-6l1-8l1-7l1-8l1-8l1-7l1-8l1-7l1-7l1-7l1-7l1-7l1-7l1-7l1-7l1-6l1-5l1-5l1-3l1-2l1-1l1 1l1 1l1 3l1 3l1 5l1 5l1 6l1 6l1 6l1 6l1 7l1 6l1 5l1 5l1 6l1 4l1 5l1 5l1 5l1 5l1 5l1 5l1 4l1 5l1 5l1 4l1 4l1 4l1 4l1 4l1 4l1 3l1 4l1 3l1 4l1 3l1 3l1 3l1 2l1 2l1 1l1 0l1 0l1-1l1-1l1-2l1-2l1-3l1-2"/><path id="shc" transform="translate(375.5,0) scale(1.46465,0.1)" vector-effect="non-scaling-stroke" d="M0 1862l1 1l1 2l1 1l1 2l1 2l1 2l1 2l1 3l1 3l1 4l1 4l1 4l1 4l1 4l1 4l1 4l1 3l1 4l1 3l1 2l1 2l1 1l1 0l1-1l1-2l1-3l1-5l1-6l1-6l1-8l1-9l1-10l1-11l1-12l1-11l1-12l1-11l1-11l1-10l1-8l1-8l1-6l1-4l1-4l1-2l1-1l1 0l1 2l1 2l1 3l1 3l1 3l1 4l1 2l1 2l1 1l1 1l1 1l1 0l1 0l1 0l1 0l1 0l1 1l1 1l1 1l1 1l1 2l1 2l1 3l1 4l1 3l1 4l1 4l1 4l1 4l1 4l1 4l1 4l1 4l1 4l1 3l1 4l1 3l1 4l1 3l1 3l1 3l1 3l1 2l1 2l1 1l1 2l1 1l1 0l1 1l1 0l1 1l1 0"/></defs>
<use href="#shg" fill="none" stroke="#b8b8b8" stroke-width="2" stroke-opacity="0.35" stroke-linejoin="round"/>
<use href="#shc" fill="none" stroke="#a8a8f8" stroke-width="3.60" stroke-opacity="0.55" stroke-linejoin="round"/>
<use href="#shc" transform="translate(0,-1.80)" fill="none" stroke="#2828e8" stroke-width="0.5" stroke-opacity="0.55"/>
<use href="#shc" transform="translate(0,1.80)" fill="none" stroke="#2828e8" stroke-width="0.5" stroke-opacity="0.55"/>
<use href="#shg" fill="none" stroke="#505050" stroke-width="0.85" stroke-linejoin="round"/>
<use href="#shc" fill="none" stroke="#2828e8" stroke-width="0.85" stroke-linejoin="round"/>
</g>
<line x1="407.5" y1="124.5" x2="407.5" y2="209.5" stroke="#b5555e" stroke-width="1.1"/>
<line x1="435.5" y1="124.5" x2="435.5" y2="209.5" stroke="#b5555e" stroke-width="1.1"/>
<rect x="375.5" y="124.5" width="145.0" height="85.0" fill="none" stroke="#c9c9c9" stroke-width="1"/>
<line x1="375.5" y1="171.25" x2="375.5" y2="209.5" stroke="#b0b0b0" stroke-width="1"/>
<line x1="375.5" y1="209.5" x2="375.5" y2="210.4" stroke="#444" stroke-width="0.7"/>
<text x="375.5" y="213.8" font-size="3.7" text-anchor="middle" fill="#555" textLength="11.2" lengthAdjust="spacingAndGlyphs">January</text>
<line x1="399.47" y1="209.5" x2="399.47" y2="210.4" stroke="#444" stroke-width="0.7"/>
<text x="399.47" y="213.8" font-size="3.7" text-anchor="middle" fill="#555" textLength="8.7" lengthAdjust="spacingAndGlyphs">March</text>
<line x1="423.83" y1="209.5" x2="423.83" y2="210.4" stroke="#444" stroke-width="0.7"/>
<text x="423.83" y="213.8" font-size="3.7" text-anchor="middle" fill="#555" textLength="5.6" lengthAdjust="spacingAndGlyphs">May</text>
<line x1="448.2" y1="209.5" x2="448.2" y2="210.4" stroke="#444" stroke-width="0.7"/>
<text x="448.2" y="213.8" font-size="3.7" text-anchor="middle" fill="#555" textLength="5.8" lengthAdjust="spacingAndGlyphs">July</text>
<line x1="472.97" y1="209.5" x2="472.97" y2="210.4" stroke="#444" stroke-width="0.7"/>
<text x="472.97" y="213.8" font-size="3.7" text-anchor="middle" fill="#555" textLength="14.1" lengthAdjust="spacingAndGlyphs">September</text>
<line x1="497.33" y1="209.5" x2="497.33" y2="210.4" stroke="#444" stroke-width="0.7"/>
<text x="497.33" y="213.8" font-size="3.7" text-anchor="middle" fill="#555" textLength="13.8" lengthAdjust="spacingAndGlyphs">November</text>
<text x="447.27" y="218.8" font-size="4.9" text-anchor="middle" fill="#222" stroke="#222" stroke-width="0.15" textLength="7.8" lengthAdjust="spacingAndGlyphs">Date</text>
<line x1="374.5" y1="209.2" x2="375.5" y2="209.2" stroke="#555" stroke-width="0.6"/>
<text x="373.9" y="210.7" font-size="3.5" text-anchor="end" fill="#555">0.0</text>
<line x1="374.5" y1="188.5" x2="375.5" y2="188.5" stroke="#555" stroke-width="0.6"/>
<text x="373.9" y="190" font-size="3.5" text-anchor="end" fill="#555">0.4</text>
<line x1="374.5" y1="167.2" x2="375.5" y2="167.2" stroke="#555" stroke-width="0.6"/>
<text x="373.9" y="168.7" font-size="3.5" text-anchor="end" fill="#555">0.8</text>
<line x1="374.5" y1="145.9" x2="375.5" y2="145.9" stroke="#555" stroke-width="0.6"/>
<text x="373.9" y="147.4" font-size="3.5" text-anchor="end" fill="#555">1.2</text>
<line x1="374.5" y1="124.7" x2="375.5" y2="124.7" stroke="#555" stroke-width="0.6"/>
<text x="373.9" y="126.2" font-size="3.5" text-anchor="end" fill="#555">1.6</text>
<text transform="translate(367.9,167.2) rotate(-90)" font-size="4.5" text-anchor="middle" fill="#222" stroke="#222" stroke-width="0.1" textLength="17.5" lengthAdjust="spacingAndGlyphs">CO (ppm)</text>
<rect x="487.3" y="126.8" width="5.5" height="5" fill="#dadada"/>
<line x1="487.3" y1="129.3" x2="492.8" y2="129.3" stroke="#505050" stroke-width="0.8"/>
<rect x="487.3" y="132.2" width="5.5" height="5.4" fill="#a8a8f8" fill-opacity="0.65"/>
<line x1="487.3" y1="134.9" x2="492.8" y2="134.9" stroke="#2828e8" stroke-width="0.8"/>
<text x="494.6" y="130.8" font-size="4.4" fill="#222" stroke="#222" stroke-width="0.12" textLength="24.3" lengthAdjust="spacingAndGlyphs">Mean 2004 - 2019</text>
<text x="494.6" y="136.6" font-size="4.4" fill="#222" stroke="#222" stroke-width="0.12" textLength="15" lengthAdjust="spacingAndGlyphs">Mean 2020</text>
<clipPath id="cpk"><rect x="542.5" y="124.8" width="139.0" height="81.7"/></clipPath>
<g clip-path="url(#cpk)">
<path transform="translate(542.69,0) scale(0.37978,0.1)" vector-effect="non-scaling-stroke" d="M0 1752l1 45l1 78l1 14l1-33l1-59l1-16l1 68l1 14l1-41l1-53l1-17l1 62l1 60l1-19l1-57l1 14l1 53l1 26l1-41l1-58l1 23l1 30l1 41l1 10l1 11l1-31l1 8l1-10l1-12l1-31l1-29l1 60l1 27l1-3l1-31l1-55l1-3l1 49l1 28l1-20l1-23l1-15l1 58l1 1l1-39l1-48l1 11l1 15l1 45l1 12l1-39l1-17l1 26l1 9l1 3l1-63l1-7l1-35l1 90l1 22l1-19l1-16l1 15l1-7l1 17l1-7l1-58l1 21l1 36l1 5l1-35l1-50l1 9l1 68l1 45l1-56l1-66l1 34l1 57l1 41l1-27l1-16l1-18l1-46l1 50l1 16l1 14l1-31l1-64l1 48l1 58l1-77l1-64l1 43l1 43l1 15l1-62l1-90l1 24l1 67l1 50l1 0l1-24l1-100l1 71l1 14l1 38l1-44l1-83l1 41l1 70l1 26l1-22l1-52l1 20l1 32l1-13l1-1l1-33l1-36l1 54l1 39l1-46l1 16l1-54l1-5l1 68l1-34l1-48l1 4l1 25l1 40l1 14l1 11l1-1l1-9l1-9l1-13l1-67l1-26l1-52l1 123l1 23l1-36l1-70l1-27l1 165l1 55l1-61l1-34l1-88l1 26l1 36l1-9l1 5l1-44l1 29l1 36l1 16l1-46l1-47l1 14l1 32l1-11l1-21l1-35l1-61l1 25l1 89l1 3l1-39l1-9l1 22l1 34l1-25l1-24l1-51l1 69l1-2l1-15l1-56l1-25l1 53l1 54l1-8l1-43l1-29l1 12l1 72l1 15l1-28l1-27l1-12l1 18l1 22l1-6l1 21l1 4l1-2l1-13l1-17l1-9l1-39l1 62l1 18l1-36l1-54l1-59l1 44l1 61l1 17l1-9l1-57l1 33l1 27l1 36l1-56l1-58l1-10l1 100l1-1l1 9l1-8l1-22l1 20l1 28l1-32l1-19l1 4l1 28l1 14l1 12l1-22l1-35l1 41l1 17l1 22l1-70l1-40l1 79l1 34l1-46l1-34l1-53l1 62l1 37l1 18l1 5l1 31l1 9l1-12l1 3l1-34l1-27l1-9l1-4l1 38l1 33l1-49l1-58l1 91l1 23l1 2l1-19l1 1l1-13l1 24l1 0l1-19l1-39l1 37l1 28l1-12l1-49l1-19l1 24l1 56l1 20l1 32l1-41l1-33l1 38l1 61l1-70l1-56l1 23l1 49l1-14l1 26l1-9l1 7l1-16l1-60l1-25l1 79l1 33l1 10l1-2l1 7l1-24l1-112l1 33l1 76l1 33l1-33l1-77l1-36l1 38l1 31l1 38l1 32l1 5l1 1l1 5l1 12l1-63l1-110l1 12l1 89l1 61l1-15l1-54l1 39l1 32l1 4l1-12l1-38l1 14l1 2l1 38l1 0l1-20l1-33l1 23l1 21l1 25l1-59l1 4l1 14l1 25l1-24l1 4l1-48l1-6l1-22l1 17l1 31l1-39l1 61l1 32l1-6l1-19l1-19l1 0l1 31l1 6l1-17l1-56l1 23l1 6l1 22l1 7l1-40l1-29l1 15" fill="none" stroke="#9c9c9c" stroke-width="0.4" stroke-opacity="0.85"/>
<path transform="translate(542.69,0) scale(0.37978,0.1)" vector-effect="non-scaling-stroke" d="M0 1936l1 46l1-35l1-83l1-80l1-47l1 42l1-55l1 82l1 95l1-25l1 89l1 66l1 11l1-28l1 27l1-55l1 15l1-24l1-50l1-285l1 51l1 150l1 64l1 7l1-90l1-85l1 157l1 69l1-9l1-64l1-65l1 84l1 22l1-25l1-14l1-77l1-109l1 117l1 117l1 68l1-154l1 55l1 32l1 60l1 16l1-162l1-10l1 55l1-11l1-59l1-47l1-41l1 7l1-9l1 57l1-74l1 63l1 66l1-50l1-20l1 20l1-52l1 9l1 18l1 74l1-123l1-82l1 17l1 12l1 49l1-8l1 70l1-30l1-66l1-151l1 161l1 196l1-8l1 75l1-17l1 34l1-105l1-85l1 13l1 120l1-57l1-42l1-124l1-20l1 192l1-7l1-2l1-112l1 37l1 77l1 28l1 55l1-161l1-112l1 176l1 45l1 45l1-70l1-177l1 21l1 106l1 72l1-52l1-33l1-152l1 25l1-7l1 1l1-81l1 145l1 151l1-15l1-133l1 2l1-52l1 152l1 161l1-95l1-221l1-116l1-45l1-10l1 26l1 156l1 135l1 57l1 40l1-13l1-174l1 31l1 87l1 104l1-14l1-102l1-176l1-101l1 241l1 128l1-2l1-192l1-64l1 269l1 13l1-171l1-188l1-150l1 415l1 185l1-105l1-28l1-28l1-84l1 32l1-30l1 7l1-71l1-99l1 225l1 37l1-70l1-101l1-241l1 80l1-53l1-57l1 12l1-72l1 83l1 210l1 193l1-277l1-69l1 73l1 128l1 68l1-86l1-247l1 101l1 192l1 123l1-173l1-122l1 135l1 94l1 84l1-24l1-112l1-270l1 95l1 147l1 21l1-325l1 210l1 101l1 127l1-96l1-247l1-19l1 26l1 173l1 52l1-50l1-106l1-199l1 202l1 271l1 41l1 35l1-57l1-44l1-26l1-7l1-48l1 33l1 81l1-6l1-86l1-178l1-92l1 174l1 146l1-150l1-221l1-115l1 119l1 141l1-109l1 48l1-21l1 141l1 140l1-25l1-188l1 28l1 125l1-45l1 0l1-110l1 3l1-52l1 212l1-104l1 128l1-17l1 74l1-35l1-13l1-57l1-152l1-44l1-34l1 58l1 58l1-47l1-81l1-4l1 153l1 127l1-102l1 0l1-151l1 164l1 184l1-140l1-224l1 183l1 66l1-21l1 89l1-250l1 41l1 230l1-19l1-98l1-69l1-61l1-4l1 18l1 15l1 6l1-4l1 232l1 69l1 17l1-77l1-183l1-133l1 260l1 97l1-247l1-129l1 290l1-34l1 131l1-150l1-16l1-26l1 72l1 99l1-12l1-224l1-41l1 53l1-76l1 0l1 11l1 164l1 52l1-69l1 114l1-218l1-83l1 156l1 189l1-29l1-164l1-89l1 49l1 112l1 120l1-79l1-108l1-52l1 40l1 54l1 28l1-105l1 83l1-79l1-63l1 28l1 133l1 6l1 109l1 127l1-77l1-108l1-105l1 41l1 140l1-80l1-22l1-101l1 123l1 131l1 58l1-71l1-126l1-91l1 148l1 44l1 5l1-40l1-172l1 101l1 111l1-13l1-70l1 28l1 142" fill="none" stroke="#6cb46c" stroke-width="0.4" stroke-opacity="0.85"/>
<defs><path id="skg" transform="translate(542.5,0) scale(1.40404,0.1)" vector-effect="non-scaling-stroke" d="M0 1854l1 1l1 1l1 1l1 0l1 1l1 0l1 0l1-1l1-2l1-1l1-3l1-2l1-3l1-2l1-3l1-2l1-3l1-2l1-2l1-3l1-2l1-3l1-3l1-3l1-3l1-3l1-4l1-3l1-4l1-4l1-3l1-4l1-4l1-4l1-4l1-4l1-5l1-4l1-6l1-5l1-6l1-7l1-6l1-7l1-7l1-7l1-6l1-7l1-6l1-6l1-4l1-4l1-3l1-1l1 0l1 2l1 3l1 4l1 4l1 5l1 5l1 5l1 5l1 4l1 5l1 4l1 5l1 4l1 5l1 5l1 6l1 5l1 6l1 6l1 6l1 7l1 6l1 6l1 6l1 6l1 6l1 6l1 5l1 5l1 5l1 4l1 4l1 3l1 3l1 2l1 2l1 1l1 0l1 0l1-1l1-2l1-1l1-2l1-2"/><path id="skc" transform="translate(542.5,0) scale(1.40404,0.1)" vector-effect="non-scaling-stroke" d="M0 1889l1 1l1 1l1 1l1 1l1 1l1 0l1 0l1 0l1-1l1-2l1-2l1-2l1-3l1-3l1-3l1-4l1-4l1-5l1-4l1-5l1-5l1-5l1-5l1-5l1-5l1-5l1-5l1-5l1-5l1-5l1-4l1-5l1-5l1-4l1-5l1-4l1-5l1-4l1-4l1-4l1-4l1-4l1-4l1-3l1-3l1-3l1-3l1-2l1-2l1-1l1-2l1-2l1-1l1-2l1-1l1-2l1-2l1-1l1-1l1-1l1 0l1 0l1 1l1 1l1 2l1 3l1 3l1 4l1 5l1 5l1 6l1 7l1 6l1 8l1 7l1 8l1 7l1 8l1 8l1 7l1 7l1 7l1 7l1 7l1 6l1 5l1 6l1 5l1 5l1 5l1 5l1 5l1 6l1 6l1 7l1 6l1 7l1 7l1 7"/></defs>
<use href="#skg" fill="none" stroke="#b8b8b8" stroke-width="3.74" stroke-opacity="0.45" stroke-linejoin="round"/>
<use href="#skg" transform="translate(0,-1.87)" fill="none" stroke="#505050" stroke-width="0.5" stroke-opacity="0.55"/>
<use href="#skg" transform="translate(0,1.87)" fill="none" stroke="#505050" stroke-width="0.5" stroke-opacity="0.55"/>
<use href="#skc" fill="none" stroke="#a8d4a8" stroke-width="4.40" stroke-opacity="0.55" stroke-linejoin="round"/>
<use href="#skc" transform="translate(0,-2.20)" fill="none" stroke="#24803a" stroke-width="0.5" stroke-opacity="0.55"/>
<use href="#skc" transform="translate(0,2.20)" fill="none" stroke="#24803a" stroke-width="0.5" stroke-opacity="0.55"/>
<use href="#skg" fill="none" stroke="#505050" stroke-width="0.85" stroke-linejoin="round"/>
<use href="#skc" fill="none" stroke="#24803a" stroke-width="0.85" stroke-linejoin="round"/>
</g>
<line x1="573.7" y1="124.8" x2="573.7" y2="206.5" stroke="#b5555e" stroke-width="1.1"/>
<line x1="600.3" y1="124.8" x2="600.3" y2="206.5" stroke="#b5555e" stroke-width="1.1"/>
<rect x="542.5" y="124.8" width="139.0" height="81.7" fill="none" stroke="#c9c9c9" stroke-width="1"/>
<line x1="542.5" y1="169.735" x2="542.5" y2="206.5" stroke="#b0b0b0" stroke-width="1"/>
<line x1="542.5" y1="206.5" x2="542.5" y2="207.4" stroke="#444" stroke-width="0.7"/>
<text x="542.5" y="210.8" font-size="3.7" text-anchor="middle" fill="#555" textLength="11.2" lengthAdjust="spacingAndGlyphs">January</text>
<line x1="565.48" y1="206.5" x2="565.48" y2="207.4" stroke="#444" stroke-width="0.7"/>
<text x="565.48" y="210.8" font-size="3.7" text-anchor="middle" fill="#555" textLength="8.7" lengthAdjust="spacingAndGlyphs">March</text>
<line x1="588.83" y1="206.5" x2="588.83" y2="207.4" stroke="#444" stroke-width="0.7"/>
<text x="588.83" y="210.8" font-size="3.7" text-anchor="middle" fill="#555" textLength="5.6" lengthAdjust="spacingAndGlyphs">May</text>
<line x1="612.19" y1="206.5" x2="612.19" y2="207.4" stroke="#444" stroke-width="0.7"/>
<text x="612.19" y="210.8" font-size="3.7" text-anchor="middle" fill="#555" textLength="5.8" lengthAdjust="spacingAndGlyphs">July</text>
<line x1="635.93" y1="206.5" x2="635.93" y2="207.4" stroke="#444" stroke-width="0.7"/>
<text x="635.93" y="210.8" font-size="3.7" text-anchor="middle" fill="#555" textLength="14.1" lengthAdjust="spacingAndGlyphs">September</text>
<line x1="659.29" y1="206.5" x2="659.29" y2="207.4" stroke="#444" stroke-width="0.7"/>
<text x="659.29" y="210.8" font-size="3.7" text-anchor="middle" fill="#555" textLength="13.8" lengthAdjust="spacingAndGlyphs">November</text>
<text x="611.3" y="215.8" font-size="4.9" text-anchor="middle" fill="#222" stroke="#222" stroke-width="0.15" textLength="7.8" lengthAdjust="spacingAndGlyphs">Date</text>
<line x1="541.5" y1="206" x2="542.5" y2="206" stroke="#555" stroke-width="0.6"/>
<text x="540.9" y="207.5" font-size="3.5" text-anchor="end" fill="#555">0</text>
<line x1="541.5" y1="188.4" x2="542.5" y2="188.4" stroke="#555" stroke-width="0.6"/>
<text x="540.9" y="189.9" font-size="3.5" text-anchor="end" fill="#555">20</text>
<line x1="541.5" y1="169.9" x2="542.5" y2="169.9" stroke="#555" stroke-width="0.6"/>
<text x="540.9" y="171.4" font-size="3.5" text-anchor="end" fill="#555">40</text>
<line x1="541.5" y1="152.2" x2="542.5" y2="152.2" stroke="#555" stroke-width="0.6"/>
<text x="540.9" y="153.7" font-size="3.5" text-anchor="end" fill="#555">60</text>
<line x1="541.5" y1="133.2" x2="542.5" y2="133.2" stroke="#555" stroke-width="0.6"/>
<text x="540.9" y="134.7" font-size="3.5" text-anchor="end" fill="#555">80</text>
<text transform="translate(535.5,168.0) rotate(-90)" font-size="4.5" text-anchor="middle" fill="#222" stroke="#222" stroke-width="0.1" textLength="26.0" lengthAdjust="spacingAndGlyphs">PM₁₀ (µg/m³)</text>
<text x="553.8" y="201.0" font-size="3.2" font-weight="bold" text-anchor="middle" fill="#111" textLength="3.4" lengthAdjust="spacingAndGlyphs">P1</text>
<text x="588.6" y="201.0" font-size="3.2" font-weight="bold" text-anchor="middle" fill="#111" textLength="3.4" lengthAdjust="spacingAndGlyphs">P2</text>
<text x="635.3" y="201.0" font-size="3.2" font-weight="bold" text-anchor="middle" fill="#111" textLength="3.4" lengthAdjust="spacingAndGlyphs">P3</text>
<rect x="648.3" y="127.1" width="5.5" height="5" fill="#dadada"/>
<line x1="648.3" y1="129.6" x2="653.8" y2="129.6" stroke="#505050" stroke-width="0.8"/>
<rect x="648.3" y="132.5" width="5.5" height="5.4" fill="#a8d4a8" fill-opacity="0.65"/>
<line x1="648.3" y1="135.2" x2="653.8" y2="135.2" stroke="#24803a" stroke-width="0.8"/>
<text x="655.6" y="131.1" font-size="4.4" fill="#222" stroke="#222" stroke-width="0.12" textLength="24.3" lengthAdjust="spacingAndGlyphs">Mean 2006 - 2019</text>
<text x="655.6" y="136.9" font-size="4.4" fill="#222" stroke="#222" stroke-width="0.12" textLength="15" lengthAdjust="spacingAndGlyphs">Mean 2020</text>
<clipPath id="cpc"><rect x="33.5" y="237.6" width="148.0" height="86.9"/></clipPath>
<g clip-path="url(#cpc)">
<path transform="translate(33.7,0) scale(0.40437,0.1)" vector-effect="non-scaling-stroke" d="M0 2754l1 57l1-3l1 3l1 117l1 50l1-1l1-18l1 17l1 26l1-219l1-43l1 70l1 19l1 71l1-90l1-52l1-83l1 103l1 95l1-27l1-15l1-102l1 5l1 72l1 20l1-71l1-102l1-60l1 44l1 17l1-8l1 57l1 72l1 53l1 19l1 67l1 27l1-82l1-128l1-16l1 34l1 38l1 36l1-31l1-73l1 28l1 95l1 52l1-76l1-140l1 87l1 33l1 50l1 35l1-116l1-48l1 73l1 18l1-78l1-21l1-102l1 73l1 118l1 106l1-31l1-127l1-60l1 60l1 47l1 12l1-49l1-79l1-18l1 85l1 58l1 25l1-1l1-7l1 42l1-20l1-11l1-53l1-46l1-29l1 60l1 82l1-32l1-96l1-58l1 13l1 38l1-24l1-20l1-21l1 4l1 30l1 120l1 27l1-37l1-31l1 25l1-52l1 65l1 36l1 6l1-26l1 0l1-59l1 39l1-39l1 64l1 1l1 56l1 43l1-21l1-5l1-86l1-47l1 102l1 72l1-55l1-39l1-55l1-34l1 83l1 34l1-49l1-14l1-10l1 126l1 33l1 40l1-56l1-168l1 119l1 41l1 80l1-89l1-15l1-48l1 9l1 84l1 12l1-56l1-29l1-7l1 72l1 84l1-53l1-99l1-25l1 49l1 48l1 16l1 22l1-89l1-57l1 106l1 48l1 18l1-31l1-22l1-61l1 77l1 39l1-64l1 20l1-83l1 30l1-49l1 8l1 0l1-28l1 118l1 79l1 110l1-70l1-86l1-11l1-52l1 66l1 52l1-47l1-4l1-105l1 31l1-10l1 10l1 29l1-4l1 0l1 43l1 37l1 39l1-103l1-17l1 41l1 21l1 17l1 50l1-12l1 78l1-109l1-5l1 14l1-112l1-39l1 14l1 48l1 38l1-31l1-58l1 20l1 121l1 32l1-76l1-60l1-43l1 39l1 44l1 18l1-28l1-82l1-59l1-2l1-4l1-12l1-12l1 31l1 55l1 14l1 57l1-22l1-33l1 4l1-74l1 316l1 6l1-105l1-107l1-117l1 13l1 86l1-43l1 5l1-29l1-64l1 15l1 22l1-58l1 46l1-30l1 81l1 49l1 44l1-116l1-130l1 57l1 90l1 49l1-43l1-18l1-105l1-26l1 127l1 32l1 24l1-23l1 38l1-3l1 5l1 65l1-67l1-12l1-13l1 50l1 21l1-57l1-103l1-114l1 86l1 38l1-11l1-1l1-49l1-19l1 46l1 36l1 7l1-57l1-55l1-55l1-63l1 17l1 90l1 51l1 65l1-16l1-13l1-43l1-19l1-39l1 63l1 12l1 35l1-61l1 17l1-2l1 40l1 257l1-123l1-81l1-98l1-121l1 116l1 95l1-26l1-41l1-105l1-24l1 206l1-7l1-78l1-137l1-12l1-17l1-42l1 39l1 9l1 47l1 130l1 9l1 19l1 27l1-38l1-64l1 19l1 78l1 46l1-87l1-163l1 93l1 110l1 8l1 44l1-176l1-30l1 95l1 122l1-13l1-30l1-127l1 9l1 44l1 48l1-2l1-41l1-27l1 75l1 53l1 7l1-35l1-25l1-58l1 17" fill="none" stroke="#9c9c9c" stroke-width="0.4" stroke-opacity="0.85"/>
<path transform="translate(33.7,0) scale(0.40437,0.1)" vector-effect="non-scaling-stroke" d="M0 2852l1 98l1-50l1 136l1-64l1-128l1 33l1 127l1 39l1-108l1-153l1-75l1 34l1 35l1-32l1-25l1-63l1-28l1 135l1 94l1-10l1-70l1-45l1-111l1 117l1 206l1 64l1-94l1-96l1-17l1 39l1-24l1 22l1-195l1 33l1 55l1 122l1-10l1-167l1 47l1-42l1 200l1-121l1-51l1-131l1-56l1 135l1 156l1 86l1 72l1-22l1 2l1-66l1-24l1-65l1-92l1-178l1 41l1 51l1 2l1-45l1-44l1 177l1 60l1 123l1-77l1-72l1-107l1 126l1 295l1 78l1-162l1-155l1-122l1 66l1 130l1 24l1 141l1 20l1 20l1-88l1-141l1 83l1-8l1-125l1-54l1-29l1-117l1 19l1 57l1-79l1 54l1-26l1 73l1 189l1 310l1-13l1-42l1 12l1-167l1-79l1-73l1 28l1 140l1-40l1-48l1-86l1-42l1-25l1 19l1-42l1 39l1 11l1 114l1 156l1-52l1-111l1-67l1-16l1 102l1 58l1 64l1-88l1-75l1 109l1 240l1 0l1-86l1-63l1-139l1 100l1 106l1 54l1-72l1-101l1-167l1 101l1 103l1 1l1-83l1-20l1-52l1 4l1-35l1 43l1-136l1 65l1 57l1 51l1 115l1-271l1-68l1 138l1 190l1-36l1-19l1-90l1-29l1 121l1 11l1-4l1-98l1-77l1 19l1 104l1 90l1 16l1-131l1-130l1 113l1 68l1 91l1-71l1-125l1-12l1 62l1 259l1 33l1-8l1-46l1-80l1-43l1-38l1 95l1 73l1 20l1-76l1-38l1 88l1-30l1 0l1 71l1-51l1-100l1-28l1-77l1-3l1 32l1 89l1-58l1 49l1-147l1-40l1 15l1 44l1 152l1-242l1 100l1 21l1 79l1 17l1 39l1 87l1 20l1-96l1-73l1-60l1-242l1-150l1 180l1 251l1 181l1-85l1-31l1-70l1 62l1-71l1 37l1-78l1-141l1 54l1 62l1 110l1 14l1-130l1-63l1-4l1 115l1 60l1-66l1-126l1 37l1-12l1 38l1-50l1-107l1-20l1 24l1 165l1 29l1 0l1-207l1-105l1 179l1 136l1-30l1-115l1-20l1-50l1 129l1-30l1 19l1 118l1 4l1-5l1 34l1-63l1-84l1-37l1-83l1 66l1 196l1 100l1-96l1-108l1-264l1 225l1 155l1-224l1-166l1-258l1 286l1 467l1 101l1-46l1-66l1-132l1-73l1-51l1-63l1-64l1 1l1-53l1 190l1-50l1-151l1-84l1-48l1 34l1 173l1 96l1-220l1-184l1 237l1 175l1 102l1-42l1-169l1-170l1 148l1 159l1-234l1-50l1-101l1 96l1 78l1 116l1 59l1 36l1-204l1 20l1 114l1-37l1-88l1-104l1 80l1 109l1 181l1-167l1-120l1-116l1 207l1 102l1-4l1-143l1-51l1 41l1 65l1 79l1 84l1 33l1 26l1-34l1-92l1-222l1 25l1 1l1-99l1 125l1 98l1 134l1-64l1-107l1-104l1-28l1-75l1-88l1-28l1-16l1 113l1 216l1 279l1 210l1-225l1-382l1 195" fill="none" stroke="#f4a45a" stroke-width="0.4" stroke-opacity="0.85"/>
<defs><path id="scg" transform="translate(33.5,0) scale(1.49495,0.1)" vector-effect="non-scaling-stroke" d="M0 2843l1-4l1-7l1-8l1-7l1-7l1-6l1-6l1-6l1-6l1-5l1-4l1-4l1-4l1-4l1-3l1-2l1-2l1-2l1 0l1 0l1 0l1 2l1 2l1 3l1 4l1 6l1 6l1 8l1 9l1 11l1 11l1 12l1 12l1 12l1 12l1 12l1 11l1 11l1 11l1 9l1 10l1 8l1 8l1 7l1 7l1 5l1 5l1 4l1 3l1 2l1 1l1 0l1 0l1-2l1-3l1-4l1-5l1-6l1-7l1-7l1-8l1-9l1-10l1-10l1-10l1-10l1-11l1-11l1-10l1-11l1-10l1-10l1-9l1-9l1-9l1-8l1-8l1-7l1-7l1-6l1-6l1-5l1-4l1-3l1-2l1-1l1 1l1 1l1 3l1 5l1 5l1 6l1 8l1 8l1 9l1 10l1 10l1 10l1 11"/><path id="scc" transform="translate(33.5,0) scale(1.49495,0.1)" vector-effect="non-scaling-stroke" d="M0 2951l1-16l1-29l1-28l1-24l1-21l1-17l1-14l1-11l1-9l1-8l1-7l1-5l1-4l1-1l1 2l1 6l1 9l1 12l1 14l1 16l1 16l1 18l1 17l1 18l1 17l1 17l1 17l1 15l1 14l1 12l1 10l1 7l1 4l1 3l1 0l1-1l1-2l1-2l1-3l1-3l1-3l1-3l1-2l1-2l1-2l1 0l1-1l1 0l1 1l1 0l1 1l1 0l1 0l1-1l1-1l1-2l1-4l1-5l1-7l1-8l1-8l1-9l1-10l1-9l1-9l1-9l1-8l1-8l1-8l1-8l1-8l1-8l1-9l1-8l1-8l1-9l1-9l1-9l1-9l1-9l1-10l1-9l1-8l1-7l1-6l1-4l1-3l1 0l1 2l1 3l1 6l1 7l1 10l1 11l1 13l1 14l1 14l1 16l1 15"/></defs>
<use href="#scg" fill="none" stroke="#b8b8b8" stroke-width="2" stroke-opacity="0.35" stroke-linejoin="round"/>
<use href="#scc" fill="none" stroke="#f8c898" stroke-width="4.40" stroke-opacity="0.55" stroke-linejoin="round"/>
<use href="#scc" transform="translate(0,-2.20)" fill="none" stroke="#ec7a1e" stroke-width="0.5" stroke-opacity="0.55"/>
<use href="#scc" transform="translate(0,2.20)" fill="none" stroke="#ec7a1e" stroke-width="0.5" stroke-opacity="0.55"/>
<use href="#scg" fill="none" stroke="#505050" stroke-width="0.85" stroke-linejoin="round"/>
<use href="#scc" fill="none" stroke="#ec7a1e" stroke-width="0.85" stroke-linejoin="round"/>
</g>
<line x1="65.5" y1="237.6" x2="65.5" y2="324.5" stroke="#b5555e" stroke-width="1.1"/>
<line x1="86.5" y1="237.6" x2="86.5" y2="324.5" stroke="#b5555e" stroke-width="1.1"/>
<rect x="33.5" y="237.6" width="148.0" height="86.9" fill="none" stroke="#c9c9c9" stroke-width="1"/>
<line x1="33.5" y1="285.395" x2="33.5" y2="324.5" stroke="#b0b0b0" stroke-width="1"/>
<line x1="33.5" y1="324.5" x2="33.5" y2="325.4" stroke="#444" stroke-width="0.7"/>
<text x="33.5" y="328.8" font-size="3.7" text-anchor="middle" fill="#555" textLength="11.2" lengthAdjust="spacingAndGlyphs">January</text>
<line x1="57.96" y1="324.5" x2="57.96" y2="325.4" stroke="#444" stroke-width="0.7"/>
<text x="57.96" y="328.8" font-size="3.7" text-anchor="middle" fill="#555" textLength="8.7" lengthAdjust="spacingAndGlyphs">March</text>
<line x1="82.83" y1="324.5" x2="82.83" y2="325.4" stroke="#444" stroke-width="0.7"/>
<text x="82.83" y="328.8" font-size="3.7" text-anchor="middle" fill="#555" textLength="5.6" lengthAdjust="spacingAndGlyphs">May</text>
<line x1="107.7" y1="324.5" x2="107.7" y2="325.4" stroke="#444" stroke-width="0.7"/>
<text x="107.7" y="328.8" font-size="3.7" text-anchor="middle" fill="#555" textLength="5.8" lengthAdjust="spacingAndGlyphs">July</text>
<line x1="132.98" y1="324.5" x2="132.98" y2="325.4" stroke="#444" stroke-width="0.7"/>
<text x="132.98" y="328.8" font-size="3.7" text-anchor="middle" fill="#555" textLength="14.1" lengthAdjust="spacingAndGlyphs">September</text>
<line x1="157.85" y1="324.5" x2="157.85" y2="325.4" stroke="#444" stroke-width="0.7"/>
<text x="157.85" y="328.8" font-size="3.7" text-anchor="middle" fill="#555" textLength="13.8" lengthAdjust="spacingAndGlyphs">November</text>
<text x="106.76" y="333.8" font-size="4.9" text-anchor="middle" fill="#222" stroke="#222" stroke-width="0.15" textLength="7.8" lengthAdjust="spacingAndGlyphs">Date</text>
<line x1="32.5" y1="324.5" x2="33.5" y2="324.5" stroke="#555" stroke-width="0.6"/>
<text x="31.9" y="326" font-size="3.5" text-anchor="end" fill="#555">0</text>
<line x1="32.5" y1="299" x2="33.5" y2="299" stroke="#555" stroke-width="0.6"/>
<text x="31.9" y="300.5" font-size="3.5" text-anchor="end" fill="#555">10</text>
<line x1="32.5" y1="274.4" x2="33.5" y2="274.4" stroke="#555" stroke-width="0.6"/>
<text x="31.9" y="275.9" font-size="3.5" text-anchor="end" fill="#555">20</text>
<line x1="32.5" y1="250.2" x2="33.5" y2="250.2" stroke="#555" stroke-width="0.6"/>
<text x="31.9" y="251.7" font-size="3.5" text-anchor="end" fill="#555">30</text>
<text transform="translate(25.2,280.5) rotate(-90)" font-size="4.5" text-anchor="middle" fill="#222" stroke="#222" stroke-width="0.1" textLength="19" lengthAdjust="spacingAndGlyphs">NO₂ (ppb)</text>
<text x="45" y="320.0" font-size="3.2" font-weight="bold" text-anchor="middle" fill="#111" textLength="3.4" lengthAdjust="spacingAndGlyphs">P1</text>
<text x="78.2" y="320.0" font-size="3.2" font-weight="bold" text-anchor="middle" fill="#111" textLength="3.4" lengthAdjust="spacingAndGlyphs">P2</text>
<text x="132.5" y="320.0" font-size="3.2" font-weight="bold" text-anchor="middle" fill="#111" textLength="3.4" lengthAdjust="spacingAndGlyphs">P3</text>
<rect x="148.3" y="239.9" width="5.5" height="5" fill="#dadada"/>
<line x1="148.3" y1="242.4" x2="153.8" y2="242.4" stroke="#505050" stroke-width="0.8"/>
<rect x="148.3" y="245.3" width="5.5" height="5.4" fill="#f8c898" fill-opacity="0.65"/>
<line x1="148.3" y1="248" x2="153.8" y2="248" stroke="#ec7a1e" stroke-width="0.8"/>
<text x="155.6" y="243.9" font-size="4.4" fill="#222" stroke="#222" stroke-width="0.12" textLength="24.3" lengthAdjust="spacingAndGlyphs">Mean 2006 - 2019</text>
<text x="155.6" y="249.7" font-size="4.4" fill="#222" stroke="#222" stroke-width="0.12" textLength="15" lengthAdjust="spacingAndGlyphs">Mean 2020</text>
<clipPath id="cpf"><rect x="204.5" y="237.5" width="148.0" height="87.0"/></clipPath>
<g clip-path="url(#cpf)">
<path transform="translate(204.7,0) scale(0.40437,0.1)" vector-effect="non-scaling-stroke" d="M0 2908l1 120l1 26l1-56l1-65l1 18l1 15l1 61l1-12l1-6l1-29l1 24l1 19l1-1l1-3l1-19l1-13l1-47l1 68l1 55l1-7l1-5l1 20l1-21l1-8l1-6l1-17l1-46l1-6l1 33l1 42l1 43l1-34l1-38l1-71l1 45l1 32l1-22l1-31l1-22l1-22l1 182l1-21l1-30l1-70l1-57l1-1l1-33l1-10l1 22l1-7l1 13l1 92l1 19l1-27l1-61l1-13l1 50l1 66l1 6l1-46l1-52l1-22l1 92l1-19l1 46l1-34l1 2l1 44l1 38l1 86l1-85l1-75l1-85l1 59l1 71l1-34l1-54l1-37l1-57l1 128l1 1l1-26l1 5l1-2l1 42l1 34l1 10l1-49l1-71l1 7l1 46l1 20l1-10l1 25l1-49l1-6l1 48l1 54l1-6l1-47l1-69l1 67l1 31l1 6l1 24l1-19l1 22l1-11l1-7l1-8l1-39l1-39l1 77l1 33l1-5l1-11l1-25l1-64l1 48l1 73l1-16l1-50l1-20l1 55l1 61l1-8l1-34l1-54l1-6l1 70l1 18l1 21l1-22l1-90l1 20l1 42l1 8l1 9l1-41l1-58l1-5l1 67l1 67l1-36l1-43l1-3l1-11l1-10l1 0l1-14l1-7l1 68l1 57l1 4l1-43l1-18l1-96l1 52l1 69l1-7l1 7l1-2l1 27l1-25l1 10l1 25l1-48l1-64l1-3l1 49l1 60l1-43l1-62l1 42l1 2l1 32l1-34l1-65l1-67l1 15l1 152l1 14l1-28l1-35l1-81l1 14l1 13l1-13l1 0l1-69l1 97l1 39l1 1l1 18l1-47l1-40l1 2l1 37l1 50l1-43l1-4l1-48l1 62l1 16l1 7l1-17l1 5l1-1l1 25l1-3l1 32l1-84l1-81l1 84l1 4l1 32l1-1l1-22l1-3l1-4l1 23l1-39l1-71l1 28l1-12l1-44l1 9l1 23l1 16l1 47l1-10l1 28l1-1l1-39l1-59l1-37l1-8l1-15l1-37l1 51l1-22l1 79l1 88l1 2l1-83l1-50l1 45l1 16l1 19l1 51l1-73l1-48l1 37l1 33l1-47l1 4l1-24l1-20l1 73l1 16l1 6l1-11l1-38l1 41l1 39l1-28l1-5l1-38l1 8l1-18l1-39l1 24l1 4l1-26l1-10l1-13l1 34l1 66l1 25l1 20l1 39l1-22l1 11l1-41l1-42l1 17l1 82l1-18l1 13l1-47l1-10l1 0l1 13l1 38l1-5l1-32l1-24l1 8l1 76l1-33l1-35l1-11l1-27l1 46l1-6l1 30l1-63l1-26l1 83l1 99l1-34l1-37l1-47l1-46l1 64l1 80l1-65l1-49l1 12l1 35l1 70l1-29l1-41l1 0l1-55l1 8l1 73l1-3l1-71l1-54l1 31l1 33l1 37l1-47l1-33l1-46l1 73l1 44l1 39l1 27l1 31l1-43l1-71l1 2l1-67l1 26l1 3l1 40l1 16l1 28l1-19l1-31l1-85l1 120l1 31l1-32l1-54l1-33l1 33l1 26l1 68l1 9l1-76l1-72l1 94" fill="none" stroke="#9c9c9c" stroke-width="0.4" stroke-opacity="0.85"/>
<path transform="translate(204.7,0) scale(0.40437,0.1)" vector-effect="non-scaling-stroke" d="M0 2959l1 14l1-14l1-68l1 7l1-25l1-74l1 56l1 116l1 31l1-68l1-8l1 38l1-33l1 49l1-28l1-17l1-72l1 83l1 42l1 40l1-36l1-41l1-31l1-62l1 52l1-41l1 15l1 43l1 100l1 83l1-54l1-228l1-232l1 41l1 208l1 163l1 71l1-1l1 39l1-54l1-40l1 27l1-48l1-49l1-56l1-1l1 61l1 49l1 55l1 27l1-26l1-28l1-57l1 66l1-65l1 24l1-12l1-61l1-116l1-49l1-10l1 99l1 63l1 70l1 14l1-24l1-62l1-56l1 155l1 115l1-200l1-273l1 73l1 78l1 62l1 79l1-94l1-236l1 101l1 88l1 6l1-72l1-26l1-66l1 74l1 74l1 52l1-47l1-160l1 55l1 28l1 61l1 71l1-74l1-90l1-37l1 211l1 55l1-72l1-75l1-43l1 69l1 71l1 4l1-47l1-27l1 16l1 91l1-17l1-24l1-87l1 85l1 223l1 152l1 0l1-100l1-83l1-146l1-117l1-60l1 17l1 12l1 11l1 76l1 113l1 64l1 65l1-12l1-25l1 37l1-25l1-14l1 22l1-38l1 12l1-41l1 46l1 23l1-114l1-55l1-15l1 95l1 24l1 8l1-86l1-50l1 101l1 79l1 77l1 55l1 44l1 0l1-55l1-199l1 2l1-6l1 14l1 30l1 8l1 107l1-44l1-17l1-11l1 44l1 29l1-49l1-11l1-80l1 47l1 55l1-61l1-49l1-42l1 8l1 39l1 47l1 56l1-13l1-76l1-34l1 21l1 1l1 27l1-5l1 10l1 8l1 57l1-40l1-21l1-39l1-23l1-62l1 74l1 52l1 35l1 19l1-16l1 49l1 17l1-24l1 1l1-32l1 51l1-61l1-12l1-24l1-52l1-5l1 50l1 54l1 6l1-89l1-20l1 75l1 56l1 31l1-66l1-61l1-57l1 86l1 36l1 23l1 3l1 4l1 48l1-27l1-23l1-54l1-58l1-55l1 68l1 73l1 84l1-59l1-107l1-92l1 38l1 0l1 50l1-21l1-63l1 94l1 56l1 10l1-6l1-23l1-33l1 57l1-13l1-13l1-60l1-22l1 53l1 71l1 45l1-67l1-101l1-65l1-64l1 68l1-10l1-19l1 21l1 46l1 60l1 53l1-84l1-30l1 20l1 14l1 33l1-59l1-13l1-36l1 52l1 35l1 31l1-71l1-76l1-35l1 21l1 15l1 9l1 17l1-49l1 25l1 28l1 59l1-8l1-29l1-77l1-5l1 35l1-17l1-101l1-109l1 68l1 153l1 109l1 0l1-29l1-102l1 10l1 64l1 71l1 9l1 20l1 38l1 12l1-31l1 18l1 5l1 12l1-14l1 14l1-17l1-23l1-48l1-40l1 77l1 96l1 28l1 6l1-36l1 2l1-10l1-31l1-63l1-121l1-38l1 90l1 92l1 47l1 2l1-94l1 13l1 26l1 65l1 6l1 7l1-50l1-75l1 30l1-30l1-58l1-49l1 0l1 143l1 66l1 26l1-101l1 13l1-60l1 101l1 30l1-2l1-73l1-131l1 76l1 96l1-7l1-25l1-54l1-11l1-13" fill="none" stroke="#f08878" stroke-width="0.4" stroke-opacity="0.85"/>
<defs><path id="sfg" transform="translate(204.5,0) scale(1.49495,0.1)" vector-effect="non-scaling-stroke" d="M0 3014l1-1l1-2l1-2l1-3l1-2l1-2l1-2l1-2l1-2l1-2l1-1l1-2l1-1l1-1l1-1l1-1l1 0l1 0l1 1l1 1l1 3l1 3l1 4l1 5l1 6l1 7l1 8l1 9l1 9l1 10l1 9l1 9l1 8l1 7l1 6l1 5l1 4l1 1l1 1l1-2l1-2l1-3l1-4l1-3l1-4l1-4l1-4l1-4l1-3l1-4l1-4l1-4l1-4l1-4l1-4l1-5l1-4l1-5l1-4l1-5l1-5l1-5l1-5l1-4l1-4l1-3l1-3l1-2l1-1l1 1l1 1l1 2l1 2l1 4l1 4l1 4l1 5l1 5l1 5l1 5l1 5l1 4l1 5l1 3l1 4l1 3l1 2l1 2l1 2l1 1l1 1l1 1l1 0l1 0l1 0l1-1l1 0l1-1l1 0"/><path id="sfc" transform="translate(204.5,0) scale(1.49495,0.1)" vector-effect="non-scaling-stroke" d="M0 2897l1 8l1 14l1 14l1 13l1 10l1 9l1 6l1 3l1 0l1-5l1-8l1-13l1-16l1-19l1-21l1-24l1-24l1-24l1-21l1-19l1-13l1-8l1-3l1 3l1 6l1 10l1 14l1 16l1 19l1 21l1 23l1 23l1 23l1 23l1 22l1 19l1 17l1 15l1 13l1 11l1 9l1 7l1 5l1 4l1 2l1 1l1-1l1-1l1-2l1-3l1-3l1-3l1-3l1-3l1-2l1-1l1 1l1 0l1 2l1 2l1 3l1 2l1 3l1 3l1 1l1 0l1-4l1-6l1-11l1-14l1-16l1-17l1-16l1-15l1-12l1-9l1-5l1 1l1 4l1 9l1 11l1 13l1 15l1 15l1 15l1 14l1 12l1 10l1 7l1 4l1 1l1-2l1-5l1-9l1-11l1-14l1-15l1-17l1-11"/></defs>
<use href="#sfg" fill="none" stroke="#b8b8b8" stroke-width="2" stroke-opacity="0.35" stroke-linejoin="round"/>
<use href="#sfc" fill="none" stroke="#f4aca0" stroke-width="3.60" stroke-opacity="0.55" stroke-linejoin="round"/>
<use href="#sfc" transform="translate(0,-1.80)" fill="none" stroke="#e0483a" stroke-width="0.5" stroke-opacity="0.55"/>
<use href="#sfc" transform="translate(0,1.80)" fill="none" stroke="#e0483a" stroke-width="0.5" stroke-opacity="0.55"/>
<use href="#sfg" fill="none" stroke="#505050" stroke-width="0.85" stroke-linejoin="round"/>
<use href="#sfc" fill="none" stroke="#e0483a" stroke-width="0.85" stroke-linejoin="round"/>
</g>
<line x1="236.5" y1="237.5" x2="236.5" y2="324.5" stroke="#b5555e" stroke-width="1.1"/>
<line x1="257.3" y1="237.5" x2="257.3" y2="324.5" stroke="#b5555e" stroke-width="1.1"/>
<rect x="204.5" y="237.5" width="148.0" height="87.0" fill="none" stroke="#c9c9c9" stroke-width="1"/>
<line x1="204.5" y1="285.35" x2="204.5" y2="324.5" stroke="#b0b0b0" stroke-width="1"/>
<line x1="204.5" y1="324.5" x2="204.5" y2="325.4" stroke="#444" stroke-width="0.7"/>
<text x="204.5" y="328.8" font-size="3.7" text-anchor="middle" fill="#555" textLength="11.2" lengthAdjust="spacingAndGlyphs">January</text>
<line x1="228.96" y1="324.5" x2="228.96" y2="325.4" stroke="#444" stroke-width="0.7"/>
<text x="228.96" y="328.8" font-size="3.7" text-anchor="middle" fill="#555" textLength="8.7" lengthAdjust="spacingAndGlyphs">March</text>
<line x1="253.83" y1="324.5" x2="253.83" y2="325.4" stroke="#444" stroke-width="0.7"/>
<text x="253.83" y="328.8" font-size="3.7" text-anchor="middle" fill="#555" textLength="5.6" lengthAdjust="spacingAndGlyphs">May</text>
<line x1="278.7" y1="324.5" x2="278.7" y2="325.4" stroke="#444" stroke-width="0.7"/>
<text x="278.7" y="328.8" font-size="3.7" text-anchor="middle" fill="#555" textLength="5.8" lengthAdjust="spacingAndGlyphs">July</text>
<line x1="303.98" y1="324.5" x2="303.98" y2="325.4" stroke="#444" stroke-width="0.7"/>
<text x="303.98" y="328.8" font-size="3.7" text-anchor="middle" fill="#555" textLength="14.1" lengthAdjust="spacingAndGlyphs">September</text>
<line x1="328.85" y1="324.5" x2="328.85" y2="325.4" stroke="#444" stroke-width="0.7"/>
<text x="328.85" y="328.8" font-size="3.7" text-anchor="middle" fill="#555" textLength="13.8" lengthAdjust="spacingAndGlyphs">November</text>
<text x="277.76" y="333.8" font-size="4.9" text-anchor="middle" fill="#222" stroke="#222" stroke-width="0.15" textLength="7.8" lengthAdjust="spacingAndGlyphs">Date</text>
<line x1="203.5" y1="324.1" x2="204.5" y2="324.1" stroke="#555" stroke-width="0.6"/>
<text x="202.9" y="325.6" font-size="3.5" text-anchor="end" fill="#555">0</text>
<line x1="203.5" y1="302.8" x2="204.5" y2="302.8" stroke="#555" stroke-width="0.6"/>
<text x="202.9" y="304.3" font-size="3.5" text-anchor="end" fill="#555">10</text>
<line x1="203.5" y1="280.7" x2="204.5" y2="280.7" stroke="#555" stroke-width="0.6"/>
<text x="202.9" y="282.2" font-size="3.5" text-anchor="end" fill="#555">20</text>
<line x1="203.5" y1="259.5" x2="204.5" y2="259.5" stroke="#555" stroke-width="0.6"/>
<text x="202.9" y="261" font-size="3.5" text-anchor="end" fill="#555">30</text>
<line x1="203.5" y1="237.7" x2="204.5" y2="237.7" stroke="#555" stroke-width="0.6"/>
<text x="202.9" y="239.2" font-size="3.5" text-anchor="end" fill="#555">40</text>
<text transform="translate(196.6,281.4) rotate(-90)" font-size="4.5" text-anchor="middle" fill="#222" stroke="#222" stroke-width="0.1" textLength="14.8" lengthAdjust="spacingAndGlyphs">O₃ (ppb)</text>
<text x="216.6" y="320.0" font-size="3.2" font-weight="bold" text-anchor="middle" fill="#111" textLength="3.4" lengthAdjust="spacingAndGlyphs">P1</text>
<text x="249.2" y="320.0" font-size="3.2" font-weight="bold" text-anchor="middle" fill="#111" textLength="3.4" lengthAdjust="spacingAndGlyphs">P2</text>
<text x="303.5" y="320.0" font-size="3.2" font-weight="bold" text-anchor="middle" fill="#111" textLength="3.4" lengthAdjust="spacingAndGlyphs">P3</text>
<rect x="319.3" y="239.8" width="5.5" height="5" fill="#dadada"/>
<line x1="319.3" y1="242.3" x2="324.8" y2="242.3" stroke="#505050" stroke-width="0.8"/>
<rect x="319.3" y="245.2" width="5.5" height="5.4" fill="#f4aca0" fill-opacity="0.65"/>
<line x1="319.3" y1="247.9" x2="324.8" y2="247.9" stroke="#e0483a" stroke-width="0.8"/>
<text x="326.6" y="243.8" font-size="4.4" fill="#222" stroke="#222" stroke-width="0.12" textLength="24.3" lengthAdjust="spacingAndGlyphs">Mean 2006 - 2019</text>
<text x="326.6" y="249.6" font-size="4.4" fill="#222" stroke="#222" stroke-width="0.12" textLength="15" lengthAdjust="spacingAndGlyphs">Mean 2020</text>
<clipPath id="cpi"><rect x="375.5" y="237.8" width="145.0" height="84.69999999999999"/></clipPath>
<g clip-path="url(#cpi)">
<path transform="translate(375.7,0) scale(0.39617,0.1)" vector-effect="non-scaling-stroke" d="M0 2790l1 43l1 48l1-15l1-48l1-61l1 8l1 17l1 54l1-20l1-54l1-1l1 40l1 15l1-23l1-50l1-1l1 29l1-19l1 42l1 6l1 2l1-20l1-105l1-3l1-27l1 42l1 45l1 17l1 19l1-23l1-58l1 48l1-20l1 48l1-33l1-23l1-16l1 11l1 63l1 20l1-87l1-15l1 18l1 22l1 35l1-36l1-38l1 46l1 14l1-4l1 3l1-44l1-35l1 100l1 10l1-45l1-22l1-31l1 37l1 46l1-52l1-86l1-18l1 57l1 89l1-53l1-43l1 25l1 61l1 18l1 59l1-10l1 35l1-51l1-43l1-71l1-8l1-31l1 10l1 66l1-20l1-16l1-36l1 0l1 27l1 27l1 16l1-31l1-14l1-13l1 47l1 29l1-123l1 54l1 52l1 25l1-2l1-61l1 23l1 13l1 2l1 0l1 35l1-13l1-19l1 29l1-78l1-7l1 15l1 7l1 33l1 57l1-35l1-54l1-9l1 66l1 26l1-45l1-78l1 2l1 14l1 70l1 10l1-30l1-76l1 87l1 53l1-29l1-11l1-46l1 51l1 57l1 12l1-9l1 5l1 23l1-15l1-26l1-33l1-45l1 70l1 54l1 9l1-30l1-7l1-59l1-6l1 35l1-48l1-35l1 29l1-3l1 27l1 33l1 0l1-15l1-4l1-3l1 34l1-20l1 17l1 58l1-17l1 44l1-8l1-48l1-24l1 66l1 36l1-1l1-43l1-22l1 25l1 4l1 14l1-35l1-32l1 25l1 86l1-45l1-79l1-12l1 39l1 43l1 28l1-52l1-9l1-30l1 110l1-6l1-57l1-42l1 38l1 76l1-56l1-91l1-78l1 18l1 70l1 59l1 59l1-27l1-73l1 45l1 3l1 7l1-6l1-52l1 6l1 45l1 33l1-24l1-75l1 4l1 67l1-2l1 1l1-64l1-39l1 2l1-14l1 12l1 5l1 36l1 46l1 33l1 11l1-51l1-65l1 96l1 0l1-12l1-104l1 23l1 24l1 49l1 41l1-18l1-64l1-57l1 62l1 57l1-68l1-37l1-67l1 60l1 22l1-19l1-23l1 5l1 41l1 65l1-45l1-26l1-21l1-13l1 7l1-7l1-16l1-28l1 38l1 47l1 5l1-69l1-70l1 42l1 81l1 16l1-14l1-24l1-29l1 41l1 27l1-13l1-36l1-55l1 42l1 42l1-29l1-48l1-24l1-19l1 11l1-45l1 10l1 12l1-18l1 65l1 54l1-73l1-95l1 39l1 34l1-24l1 27l1-29l1 9l1 67l1 18l1-52l1-56l1-18l1 99l1 32l1-5l1-88l1-11l1 22l1 15l1 23l1-58l1-9l1 21l1 51l1-17l1-5l1-14l1 29l1-36l1 11l1-23l1-35l1 33l1 33l1 22l1-42l1 8l1-26l1 29l1 1l1-23l1-15l1-10l1 19l1 21l1-18l1-72l1-54l1 45l1 144l1-7l1-37l1-85l1 64l1-7l1-4l1-2l1 35l1-30l1 26l1 52l1 6l1-26l1-65l1 58l1 55l1 26l1-6l1-74l1 20l1 26l1 64l1 3l1 21l1-2" fill="none" stroke="#9c9c9c" stroke-width="0.4" stroke-opacity="0.85"/>
<path transform="translate(375.7,0) scale(0.39617,0.1)" vector-effect="non-scaling-stroke" d="M0 2738l1 168l1 121l1-14l1-60l1-56l1-35l1 77l1-9l1-138l1-195l1 126l1 107l1 174l1-29l1-58l1 4l1 0l1-58l1-28l1-65l1-45l1-42l1 12l1-12l1-6l1 37l1 49l1 76l1 17l1-157l1 0l1 32l1 39l1 54l1-34l1-8l1-16l1 4l1 23l1-127l1-57l1 40l1 74l1 30l1 64l1 0l1-107l1-35l1-35l1-4l1-64l1-11l1 28l1 42l1-28l1 4l1-5l1 57l1 110l1 59l1 57l1-17l1 13l1-10l1-28l1-48l1-108l1 33l1 62l1 43l1-32l1-63l1-70l1 70l1 48l1 53l1 52l1-35l1 42l1 63l1-79l1-128l1-9l1 100l1 115l1-47l1-52l1-51l1 105l1 31l1 6l1-91l1-27l1 53l1 22l1 40l1 2l1-135l1 42l1 64l1 114l1-5l1-90l1-54l1 137l1 54l1-1l1-102l1 12l1-43l1 130l1 42l1-37l1 66l1 12l1-63l1-116l1-16l1-57l1-8l1 73l1 130l1 0l1-261l1 126l1 164l1 65l1-117l1-17l1-133l1 48l1 70l1 63l1-28l1 28l1 3l1-40l1-10l1-51l1-115l1-15l1-12l1-40l1 31l1-47l1 66l1 137l1-32l1-80l1-27l1 30l1 16l1 49l1-83l1-57l1-57l1 106l1 40l1 118l1-133l1-99l1 68l1 127l1-113l1-93l1-12l1 43l1 166l1-99l1-89l1-123l1 121l1 149l1 73l1 124l1-164l1-90l1-40l1 19l1 105l1-81l1-49l1 22l1 54l1 53l1-59l1-60l1 15l1-60l1 0l1-9l1-26l1 32l1 87l1-30l1 12l1-20l1 37l1 33l1 35l1-38l1-297l1 42l1 191l1 154l1-43l1 17l1-67l1 12l1 69l1 47l1-139l1-46l1 62l1 91l1-74l1-39l1-123l1-7l1 56l1 72l1-44l1-21l1 48l1 49l1 27l1-7l1-113l1-56l1 143l1 160l1 79l1-102l1-235l1-103l1 14l1 43l1 41l1-14l1 85l1 94l1-12l1-139l1-62l1 123l1 147l1 175l1-360l1-194l1 76l1 70l1 120l1-98l1-72l1-61l1 10l1 138l1 80l1-87l1-18l1-10l1 91l1-23l1-125l1-24l1-72l1 27l1 54l1-15l1 15l1-29l1 109l1 68l1-20l1-128l1-16l1 5l1 129l1-96l1-62l1-22l1-26l1 11l1 67l1 56l1 61l1 69l1-43l1-3l1-214l1 1l1 121l1 37l1 4l1-61l1-50l1-125l1 119l1 80l1-86l1-65l1-90l1 76l1 37l1 13l1-82l1-28l1 67l1 43l1-101l1-2l1-69l1 72l1 44l1 9l1 17l1-56l1-32l1 85l1 54l1-28l1-38l1 40l1-11l1-15l1-63l1-23l1-32l1 40l1 25l1 69l1-117l1 20l1-7l1 80l1-1l1-46l1-32l1 84l1 12l1-98l1 11l1-113l1 7l1 38l1 13l1 67l1 4l1 46l1 124l1 23l1-4l1-53l1 0l1 15l1-24l1 18l1-32l1-3l1-23l1-30l1 41l1 28l1-21l1 98" fill="none" stroke="#6a6af8" stroke-width="0.4" stroke-opacity="0.85"/>
<defs><path id="sig" transform="translate(375.5,0) scale(1.46465,0.1)" vector-effect="non-scaling-stroke" d="M0 2824l1-7l1-9l1-8l1-9l1-8l1-9l1-8l1-9l1-8l1-8l1-8l1-7l1-7l1-6l1-6l1-5l1-4l1-3l1-3l1-2l1-1l1-1l1 0l1 1l1 1l1 2l1 3l1 3l1 5l1 5l1 6l1 7l1 8l1 8l1 10l1 9l1 10l1 10l1 11l1 10l1 10l1 10l1 8l1 8l1 6l1 5l1 3l1 2l1 2l1 0l1 0l1 0l1-1l1-1l1-1l1-2l1-2l1-3l1-4l1-4l1-5l1-5l1-7l1-6l1-7l1-8l1-8l1-8l1-8l1-9l1-9l1-10l1-9l1-10l1-11l1-10l1-11l1-11l1-11l1-11l1-11l1-11l1-11l1-10l1-8l1-7l1-5l1-3l1 1l1 3l1 7l1 10l1 12l1 15l1 18l1 20l1 21l1 22l1 23"/><path id="sic" transform="translate(375.5,0) scale(1.46465,0.1)" vector-effect="non-scaling-stroke" d="M0 2951l1-30l1-35l1-31l1-29l1-24l1-20l1-17l1-14l1-12l1-11l1-9l1-6l1-5l1-2l1 1l1 4l1 8l1 11l1 15l1 18l1 23l1 25l1 28l1 28l1 28l1 25l1 23l1 18l1 15l1 11l1 7l1 4l1-1l1-4l1-7l1-9l1-11l1-13l1-13l1-13l1-13l1-11l1-10l1-7l1-4l1 0l1 2l1 5l1 6l1 8l1 9l1 8l1 9l1 7l1 5l1 2l1 0l1-3l1-5l1-7l1-8l1-10l1-10l1-10l1-9l1-7l1-4l1-2l1-1l1 0l1-2l1-5l1-9l1-14l1-17l1-21l1-24l1-26l1-27l1-27l1-27l1-24l1-21l1-16l1-12l1-7l1-4l1-1l1 1l1 3l1 5l1 8l1 10l1 15l1 19l1 24l1 27l1 30l1 32"/></defs>
<use href="#sig" fill="none" stroke="#b8b8b8" stroke-width="2" stroke-opacity="0.35" stroke-linejoin="round"/>
<use href="#sic" fill="none" stroke="#a8a8f8" stroke-width="4.40" stroke-opacity="0.55" stroke-linejoin="round"/>
<use href="#sic" transform="translate(0,-2.20)" fill="none" stroke="#2828e8" stroke-width="0.5" stroke-opacity="0.55"/>
<use href="#sic" transform="translate(0,2.20)" fill="none" stroke="#2828e8" stroke-width="0.5" stroke-opacity="0.55"/>
<use href="#sig" fill="none" stroke="#505050" stroke-width="0.85" stroke-linejoin="round"/>
<use href="#sic" fill="none" stroke="#2828e8" stroke-width="0.85" stroke-linejoin="round"/>
</g>
<line x1="406.5" y1="237.8" x2="406.5" y2="322.5" stroke="#b5555e" stroke-width="1.1"/>
<line x1="427.3" y1="237.8" x2="427.3" y2="322.5" stroke="#b5555e" stroke-width="1.1"/>
<rect x="375.5" y="237.8" width="145.0" height="84.69999999999999" fill="none" stroke="#c9c9c9" stroke-width="1"/>
<line x1="375.5" y1="284.385" x2="375.5" y2="322.5" stroke="#b0b0b0" stroke-width="1"/>
<line x1="375.5" y1="322.5" x2="375.5" y2="323.4" stroke="#444" stroke-width="0.7"/>
<text x="375.5" y="326.8" font-size="3.7" text-anchor="middle" fill="#555" textLength="11.2" lengthAdjust="spacingAndGlyphs">January</text>
<line x1="399.47" y1="322.5" x2="399.47" y2="323.4" stroke="#444" stroke-width="0.7"/>
<text x="399.47" y="326.8" font-size="3.7" text-anchor="middle" fill="#555" textLength="8.7" lengthAdjust="spacingAndGlyphs">March</text>
<line x1="423.83" y1="322.5" x2="423.83" y2="323.4" stroke="#444" stroke-width="0.7"/>
<text x="423.83" y="326.8" font-size="3.7" text-anchor="middle" fill="#555" textLength="5.6" lengthAdjust="spacingAndGlyphs">May</text>
<line x1="448.2" y1="322.5" x2="448.2" y2="323.4" stroke="#444" stroke-width="0.7"/>
<text x="448.2" y="326.8" font-size="3.7" text-anchor="middle" fill="#555" textLength="5.8" lengthAdjust="spacingAndGlyphs">July</text>
<line x1="472.97" y1="322.5" x2="472.97" y2="323.4" stroke="#444" stroke-width="0.7"/>
<text x="472.97" y="326.8" font-size="3.7" text-anchor="middle" fill="#555" textLength="14.1" lengthAdjust="spacingAndGlyphs">September</text>
<line x1="497.33" y1="322.5" x2="497.33" y2="323.4" stroke="#444" stroke-width="0.7"/>
<text x="497.33" y="326.8" font-size="3.7" text-anchor="middle" fill="#555" textLength="13.8" lengthAdjust="spacingAndGlyphs">November</text>
<text x="447.27" y="331.8" font-size="4.9" text-anchor="middle" fill="#222" stroke="#222" stroke-width="0.15" textLength="7.8" lengthAdjust="spacingAndGlyphs">Date</text>
<line x1="374.5" y1="322.8" x2="375.5" y2="322.8" stroke="#555" stroke-width="0.6"/>
<text x="373.9" y="324.3" font-size="3.5" text-anchor="end" fill="#555">0.0</text>
<line x1="374.5" y1="298.3" x2="375.5" y2="298.3" stroke="#555" stroke-width="0.6"/>
<text x="373.9" y="299.8" font-size="3.5" text-anchor="end" fill="#555">0.4</text>
<line x1="374.5" y1="274.4" x2="375.5" y2="274.4" stroke="#555" stroke-width="0.6"/>
<text x="373.9" y="275.9" font-size="3.5" text-anchor="end" fill="#555">0.8</text>
<line x1="374.5" y1="249.6" x2="375.5" y2="249.6" stroke="#555" stroke-width="0.6"/>
<text x="373.9" y="251.1" font-size="3.5" text-anchor="end" fill="#555">1.2</text>
<text transform="translate(367.9,280.2) rotate(-90)" font-size="4.5" text-anchor="middle" fill="#222" stroke="#222" stroke-width="0.1" textLength="17.5" lengthAdjust="spacingAndGlyphs">CO (ppm)</text>
<rect x="487.3" y="240.1" width="5.5" height="5" fill="#dadada"/>
<line x1="487.3" y1="242.6" x2="492.8" y2="242.6" stroke="#505050" stroke-width="0.8"/>
<rect x="487.3" y="245.5" width="5.5" height="5.4" fill="#a8a8f8" fill-opacity="0.65"/>
<line x1="487.3" y1="248.2" x2="492.8" y2="248.2" stroke="#2828e8" stroke-width="0.8"/>
<text x="494.6" y="244.1" font-size="4.4" fill="#222" stroke="#222" stroke-width="0.12" textLength="24.3" lengthAdjust="spacingAndGlyphs">Mean 2004 - 2019</text>
<text x="494.6" y="249.9" font-size="4.4" fill="#222" stroke="#222" stroke-width="0.12" textLength="15" lengthAdjust="spacingAndGlyphs">Mean 2020</text>
<clipPath id="cpl"><rect x="544.5" y="237.4" width="137.0" height="81.9"/></clipPath>
<g clip-path="url(#cpl)">
<path transform="translate(544.69,0) scale(0.37432,0.1)" vector-effect="non-scaling-stroke" d="M0 2822l1 10l1 82l1 48l1-98l1-62l1 29l1 7l1 52l1-4l1-70l1-71l1-50l1-25l1 63l1-50l1 32l1 6l1 76l1 83l1-45l1 19l1-89l1 1l1 34l1 68l1 3l1-13l1 6l1-19l1-7l1-45l1-33l1-103l1-27l1 42l1 91l1 63l1-80l1-54l1-9l1 156l1 15l1-35l1-68l1-98l1 19l1 96l1 35l1-37l1-63l1 37l1 55l1-17l1-53l1-26l1-42l1 95l1 6l1-3l1-16l1-54l1-5l1 6l1-21l1 30l1 90l1 35l1-56l1-72l1-53l1 20l1 26l1 73l1 54l1 17l1 19l1-69l1-77l1 32l1 54l1 43l1 0l1-39l1-108l1 56l1 75l1-3l1-107l1-64l1-7l1-12l1 35l1 11l1 20l1 62l1 16l1-97l1 48l1 34l1 11l1 43l1 20l1 50l1-22l1-23l1-86l1 103l1 41l1 10l1 15l1-46l1-94l1 29l1 15l1 85l1-1l1-127l1 24l1 45l1 31l1 33l1 16l1-25l1 20l1-27l1-81l1 41l1-51l1 60l1 86l1 22l1-13l1-37l1-121l1 125l1 19l1 21l1 7l1-24l1 0l1 27l1 5l1-3l1 6l1 1l1 39l1-33l1 21l1 15l1-21l1-5l1 42l1 75l1 48l1-63l1-70l1-18l1 11l1-2l1-53l1-49l1-111l1 116l1 80l1 65l1-1l1-65l1-76l1 9l1 53l1-10l1-43l1 7l1 1l1 16l1 56l1 43l1-96l1-99l1 73l1 17l1 58l1 50l1-10l1 10l1-31l1 27l1-20l1-60l1-143l1 3l1 8l1-6l1-2l1 41l1 16l1 115l1-6l1 31l1-25l1-13l1-14l1 14l1 45l1 5l1-114l1-34l1 8l1 32l1-35l1-4l1-48l1-28l1 77l1 99l1 56l1-12l1-112l1-93l1 105l1 40l1 58l1-66l1-48l1-7l1 44l1 63l1-26l1-75l1-73l1 107l1 56l1 0l1 2l1 35l1-24l1 3l1 2l1-36l1-160l1-26l1 82l1 69l1-9l1-50l1-21l1 17l1 95l1 26l1 9l1-36l1 0l1 30l1-43l1-55l1 3l1-57l1-29l1-15l1 45l1-48l1 3l1 31l1 48l1 68l1-9l1-95l1-34l1-42l1 32l1 16l1 18l1-28l1-13l1-39l1 61l1 82l1-51l1-38l1-76l1-51l1 141l1 61l1 15l1-25l1 8l1 3l1-11l1 10l1-54l1-99l1 46l1-15l1 57l1-47l1 10l1-14l1 49l1 15l1 26l1-14l1-61l1-42l1 32l1 32l1 29l1-117l1 83l1 22l1 82l1-29l1-108l1-114l1 31l1-6l1 20l1 11l1-55l1 37l1 65l1 66l1 35l1-56l1-132l1 29l1 1l1-20l1-21l1 52l1 29l1 18l1 52l1 44l1-3l1-120l1-12l1 48l1 6l1 63l1-11l1-157l1 54l1 130l1 27l1 4l1-63l1-8l1-62l1 57l1 2l1-49l1-62l1-57l1 92l1 96l1 19l1-40l1-48l1 41l1 52l1-18l1-59l1-106l1 38l1 125" fill="none" stroke="#9c9c9c" stroke-width="0.4" stroke-opacity="0.85"/>
<path transform="translate(544.69,0) scale(0.37432,0.1)" vector-effect="non-scaling-stroke" d="M0 2909l1 98l1 45l1 98l1-190l1-64l1-39l1 54l1 35l1 31l1-78l1-16l1-24l1 80l1 29l1-32l1-104l1-25l1 91l1 1l1-18l1-48l1-16l1 83l1 96l1-4l1-62l1-119l1-42l1 77l1 39l1-26l1 112l1 9l1-27l1 50l1-42l1-39l1-68l1-50l1-33l1 113l1 0l1-20l1-60l1-47l1-6l1 63l1 93l1-156l1-58l1 123l1 63l1 28l1-34l1-110l1 1l1 80l1 42l1-29l1-37l1-44l1-40l1 49l1 165l1-76l1-40l1-101l1-32l1-141l1 70l1 102l1-2l1 16l1 142l1 98l1 119l1-130l1-108l1-46l1 47l1 78l1-101l1-110l1-29l1 49l1 99l1 47l1 17l1 5l1-84l1-72l1-39l1-25l1 116l1 97l1 49l1 11l1 71l1-25l1-39l1-36l1 26l1 29l1-74l1 4l1-123l1 111l1 111l1 11l1-24l1-62l1-53l1-78l1 252l1-6l1-95l1-67l1 79l1 53l1 100l1 33l1-76l1-118l1 27l1 81l1 34l1-86l1-52l1-76l1 113l1 99l1 54l1-38l1-110l1-133l1 190l1 72l1 24l1-103l1-90l1 52l1 95l1-29l1 17l1-104l1 33l1 29l1 90l1 5l1-125l1-150l1 116l1 49l1-17l1-6l1-66l1-8l1-10l1 63l1 52l1-80l1-109l1 128l1 2l1 52l1-69l1 13l1-87l1 15l1 142l1-78l1-125l1-108l1 45l1 115l1 77l1 98l1-124l1-50l1-53l1-45l1 86l1-85l1 69l1-60l1 135l1 57l1 0l1-132l1-59l1 108l1 72l1 50l1-37l1-54l1 14l1-10l1 125l1-59l1-47l1 26l1-112l1 46l1 107l1 59l1-96l1-40l1 48l1-11l1 35l1-24l1-36l1 1l1-146l1-161l1 115l1 145l1 162l1-13l1-3l1 44l1 38l1-54l1 13l1-29l1-8l1-67l1-44l1-101l1-55l1 101l1 220l1 24l1-132l1-216l1 44l1 151l1-10l1-70l1-114l1-52l1-28l1-3l1 36l1 81l1-18l1 106l1 89l1 32l1 104l1-86l1-28l1 12l1 54l1-77l1 13l1 0l1-38l1 26l1-44l1-5l1-89l1-25l1 73l1 95l1-7l1-27l1-60l1-112l1 31l1 210l1 84l1-195l1-199l1 81l1 88l1 168l1-92l1-2l1-53l1-101l1 66l1 71l1 9l1-96l1-38l1-91l1-76l1 58l1 14l1-13l1 127l1 61l1 43l1-73l1-5l1-45l1 35l1 21l1 6l1-32l1-112l1-71l1 113l1 165l1-81l1-80l1-21l1 51l1 87l1 105l1-90l1-213l1 104l1 25l1-3l1 9l1-156l1-16l1 62l1 97l1 65l1-30l1-87l1-38l1 104l1 56l1 21l1-91l1-40l1-71l1 26l1 62l1-13l1-101l1 31l1 41l1 45l1 34l1-51l1-97l1 79l1 117l1 104l1-111l1-84l1-114l1-49l1-15l1 84l1-27l1-39l1 59l1 11l1-77l1 1l1 29l1 42l1 64l1 19l1 69l1 10l1 46l1-20l1 21" fill="none" stroke="#6cb46c" stroke-width="0.4" stroke-opacity="0.85"/>
<defs><path id="slg" transform="translate(544.5,0) scale(1.38384,0.1)" vector-effect="non-scaling-stroke" d="M0 2870l1-10l1-11l1-11l1-11l1-11l1-10l1-11l1-9l1-10l1-8l1-8l1-6l1-5l1-3l1-2l1 0l1 1l1 2l1 3l1 4l1 5l1 6l1 7l1 8l1 9l1 10l1 11l1 11l1 11l1 11l1 10l1 10l1 10l1 9l1 9l1 8l1 7l1 7l1 7l1 7l1 6l1 7l1 7l1 7l1 7l1 7l1 7l1 6l1 5l1 5l1 4l1 2l1 2l1 1l1 0l1-1l1-3l1-3l1-5l1-6l1-7l1-7l1-8l1-8l1-7l1-7l1-6l1-5l1-6l1-5l1-5l1-6l1-6l1-7l1-7l1-7l1-8l1-7l1-8l1-8l1-7l1-6l1-6l1-4l1-4l1-2l1-2l1-1l1 0l1 1l1 1l1 2l1 3l1 4l1 5l1 5l1 6l1 7l1 7"/><path id="slc" transform="translate(544.5,0) scale(1.38384,0.1)" vector-effect="non-scaling-stroke" d="M0 2951l1-13l1-14l1-13l1-13l1-13l1-11l1-11l1-9l1-9l1-7l1-7l1-7l1-6l1-5l1-4l1-2l1-1l1 1l1 3l1 5l1 8l1 9l1 11l1 13l1 15l1 16l1 17l1 18l1 19l1 20l1 20l1 19l1 18l1 15l1 13l1 7l1 3l1 0l1-4l1-6l1-8l1-7l1-7l1-7l1-5l1-4l1-3l1 0l1 2l1 2l1 4l1 3l1 2l1 1l1 0l1-2l1-2l1-4l1-4l1-5l1-6l1-5l1-5l1-4l1-3l1-3l1-1l1 0l1 1l1 1l1 1l1 1l1 1l1 0l1-2l1-3l1-5l1-7l1-10l1-11l1-11l1-12l1-10l1-9l1-8l1-7l1-6l1-5l1-5l1-4l1-4l1-2l1 0l1 2l1 5l1 8l1 11l1 12l1 13"/></defs>
<use href="#slg" fill="none" stroke="#b8b8b8" stroke-width="2" stroke-opacity="0.35" stroke-linejoin="round"/>
<use href="#slc" fill="none" stroke="#a8d4a8" stroke-width="4.40" stroke-opacity="0.55" stroke-linejoin="round"/>
<use href="#slc" transform="translate(0,-2.20)" fill="none" stroke="#24803a" stroke-width="0.5" stroke-opacity="0.55"/>
<use href="#slc" transform="translate(0,2.20)" fill="none" stroke="#24803a" stroke-width="0.5" stroke-opacity="0.55"/>
<use href="#slg" fill="none" stroke="#505050" stroke-width="0.85" stroke-linejoin="round"/>
<use href="#slc" fill="none" stroke="#24803a" stroke-width="0.85" stroke-linejoin="round"/>
</g>
<line x1="574.2" y1="237.4" x2="574.2" y2="319.3" stroke="#e0a8a8" stroke-width="1.6"/>
<line x1="593.5" y1="237.4" x2="593.5" y2="319.3" stroke="#b5555e" stroke-width="1.1"/>
<rect x="544.5" y="237.4" width="137.0" height="81.9" fill="none" stroke="#c9c9c9" stroke-width="1"/>
<line x1="544.5" y1="282.445" x2="544.5" y2="319.3" stroke="#b0b0b0" stroke-width="1"/>
<line x1="544.5" y1="319.3" x2="544.5" y2="320.2" stroke="#444" stroke-width="0.7"/>
<text x="544.5" y="323.6" font-size="3.7" text-anchor="middle" fill="#555" textLength="11.2" lengthAdjust="spacingAndGlyphs">January</text>
<line x1="567.14" y1="319.3" x2="567.14" y2="320.2" stroke="#444" stroke-width="0.7"/>
<text x="567.14" y="323.6" font-size="3.7" text-anchor="middle" fill="#555" textLength="8.7" lengthAdjust="spacingAndGlyphs">March</text>
<line x1="590.17" y1="319.3" x2="590.17" y2="320.2" stroke="#444" stroke-width="0.7"/>
<text x="590.17" y="323.6" font-size="3.7" text-anchor="middle" fill="#555" textLength="5.6" lengthAdjust="spacingAndGlyphs">May</text>
<line x1="613.19" y1="319.3" x2="613.19" y2="320.2" stroke="#444" stroke-width="0.7"/>
<text x="613.19" y="323.6" font-size="3.7" text-anchor="middle" fill="#555" textLength="5.8" lengthAdjust="spacingAndGlyphs">July</text>
<line x1="636.59" y1="319.3" x2="636.59" y2="320.2" stroke="#444" stroke-width="0.7"/>
<text x="636.59" y="323.6" font-size="3.7" text-anchor="middle" fill="#555" textLength="14.1" lengthAdjust="spacingAndGlyphs">September</text>
<line x1="659.61" y1="319.3" x2="659.61" y2="320.2" stroke="#444" stroke-width="0.7"/>
<text x="659.61" y="323.6" font-size="3.7" text-anchor="middle" fill="#555" textLength="13.8" lengthAdjust="spacingAndGlyphs">November</text>
<text x="612.32" y="328.6" font-size="4.9" text-anchor="middle" fill="#222" stroke="#222" stroke-width="0.15" textLength="7.8" lengthAdjust="spacingAndGlyphs">Date</text>
<line x1="543.5" y1="319.3" x2="544.5" y2="319.3" stroke="#555" stroke-width="0.6"/>
<text x="542.9" y="320.8" font-size="3.5" text-anchor="end" fill="#555">0</text>
<line x1="543.5" y1="302.7" x2="544.5" y2="302.7" stroke="#555" stroke-width="0.6"/>
<text x="542.9" y="304.2" font-size="3.5" text-anchor="end" fill="#555">20</text>
<line x1="543.5" y1="286.4" x2="544.5" y2="286.4" stroke="#555" stroke-width="0.6"/>
<text x="542.9" y="287.9" font-size="3.5" text-anchor="end" fill="#555">40</text>
<line x1="543.5" y1="270.1" x2="544.5" y2="270.1" stroke="#555" stroke-width="0.6"/>
<text x="542.9" y="271.6" font-size="3.5" text-anchor="end" fill="#555">60</text>
<line x1="543.5" y1="253.8" x2="544.5" y2="253.8" stroke="#555" stroke-width="0.6"/>
<text x="542.9" y="255.3" font-size="3.5" text-anchor="end" fill="#555">80</text>
<line x1="543.5" y1="238" x2="544.5" y2="238" stroke="#555" stroke-width="0.6"/>
<text x="542.9" y="239.5" font-size="3.5" text-anchor="end" fill="#555">100</text>
<text transform="translate(534.6,279.4) rotate(-90)" font-size="4.5" text-anchor="middle" fill="#222" stroke="#222" stroke-width="0.1" textLength="22.6" lengthAdjust="spacingAndGlyphs">PM₁₀ (µg/m³)</text>
<text x="555.5" y="317.8" font-size="3.2" font-weight="bold" text-anchor="middle" fill="#111" textLength="3.4" lengthAdjust="spacingAndGlyphs">P1</text>
<text x="585.3" y="317.8" font-size="3.2" font-weight="bold" text-anchor="middle" fill="#111" textLength="3.4" lengthAdjust="spacingAndGlyphs">P2</text>
<text x="636.1" y="317.8" font-size="3.2" font-weight="bold" text-anchor="middle" fill="#111" textLength="3.4" lengthAdjust="spacingAndGlyphs">P3</text>
<rect x="648.3" y="239.7" width="5.5" height="5" fill="#dadada"/>
<line x1="648.3" y1="242.2" x2="653.8" y2="242.2" stroke="#505050" stroke-width="0.8"/>
<rect x="648.3" y="245.1" width="5.5" height="5.4" fill="#a8d4a8" fill-opacity="0.65"/>
<line x1="648.3" y1="247.8" x2="653.8" y2="247.8" stroke="#24803a" stroke-width="0.8"/>
<text x="655.6" y="243.7" font-size="4.4" fill="#222" stroke="#222" stroke-width="0.12" textLength="24.3" lengthAdjust="spacingAndGlyphs">Mean 2006 - 2019</text>
<text x="655.6" y="249.5" font-size="4.4" fill="#222" stroke="#222" stroke-width="0.12" textLength="15" lengthAdjust="spacingAndGlyphs">Mean 2020</text>
<text x="101.5" y="8.4" font-family="Liberation Serif" font-size="11" text-anchor="middle" fill="#222">NO<tspan font-size="7.4" dy="1.3">2</tspan></text>
<text x="273" y="8.4" font-family="Liberation Serif" font-size="11" text-anchor="middle" fill="#222">O<tspan font-size="7.4" dy="1.3">3</tspan></text>
<text x="442" y="8.4" font-family="Liberation Serif" font-size="11" text-anchor="middle" fill="#222">CO</text>
<text x="608" y="8.4" font-family="Liberation Serif" font-size="11" text-anchor="middle" fill="#222">PM<tspan font-size="7.4" dy="1.3">10</tspan></text>
<text transform="translate(9.2,57.4) rotate(-90) skewX(-15)" font-family="Liberation Serif" font-size="11.8" text-anchor="middle" fill="#1a1a1a" textLength="28.9" lengthAdjust="spacingAndGlyphs">MZMC</text>
<text transform="translate(9.2,168.5) rotate(-90) skewX(-15)" font-family="Liberation Serif" font-size="11.8" text-anchor="middle" fill="#1a1a1a" textLength="28.9" lengthAdjust="spacingAndGlyphs">MASP</text>
<text transform="translate(9.2,280.3) rotate(-90) skewX(-15)" font-family="Liberation Serif" font-size="11.8" text-anchor="middle" fill="#1a1a1a" textLength="31.6" lengthAdjust="spacingAndGlyphs">Bogotá</text>
<text x="17.9" y="118.1" font-family="Liberation Serif" font-weight="bold" font-size="12" fill="#111">a</text>
<text x="18.5" y="231" font-family="Liberation Serif" font-weight="bold" font-size="10.8" fill="#111">b</text>
<text x="21.9" y="344.6" font-family="Liberation Serif" font-weight="bold" font-size="12" fill="#111">c</text>
<text x="195.1" y="118" font-family="Liberation Serif" font-weight="bold" font-size="10.8" fill="#111">d</text>
<text x="194.9" y="231" font-family="Liberation Serif" font-weight="bold" font-size="12" fill="#111">e</text>
<text x="191.7" y="344" font-family="Liberation Serif" font-weight="bold" font-size="10.8" fill="#111">f</text>
<text x="360.4" y="114.8" font-family="Liberation Serif" font-weight="bold" font-size="11.3" fill="#111">g</text>
<text x="363.1" y="231.3" font-family="Liberation Serif" font-weight="bold" font-size="10.8" fill="#111">h</text>
<text x="365.2" y="343.8" font-family="Liberation Serif" font-weight="bold" font-size="11.6" fill="#111">i</text>
<text x="531.2" y="115.4" font-family="Liberation Serif" font-weight="bold" font-size="11.2" fill="#111">j</text>
<text x="531.6" y="226" font-family="Liberation Serif" font-weight="bold" font-size="10.8" fill="#111">k</text>
<text x="532" y="338.7" font-family="Liberation Serif" font-weight="bold" font-size="10.8" fill="#111">l</text>
</svg>
</body></html>
